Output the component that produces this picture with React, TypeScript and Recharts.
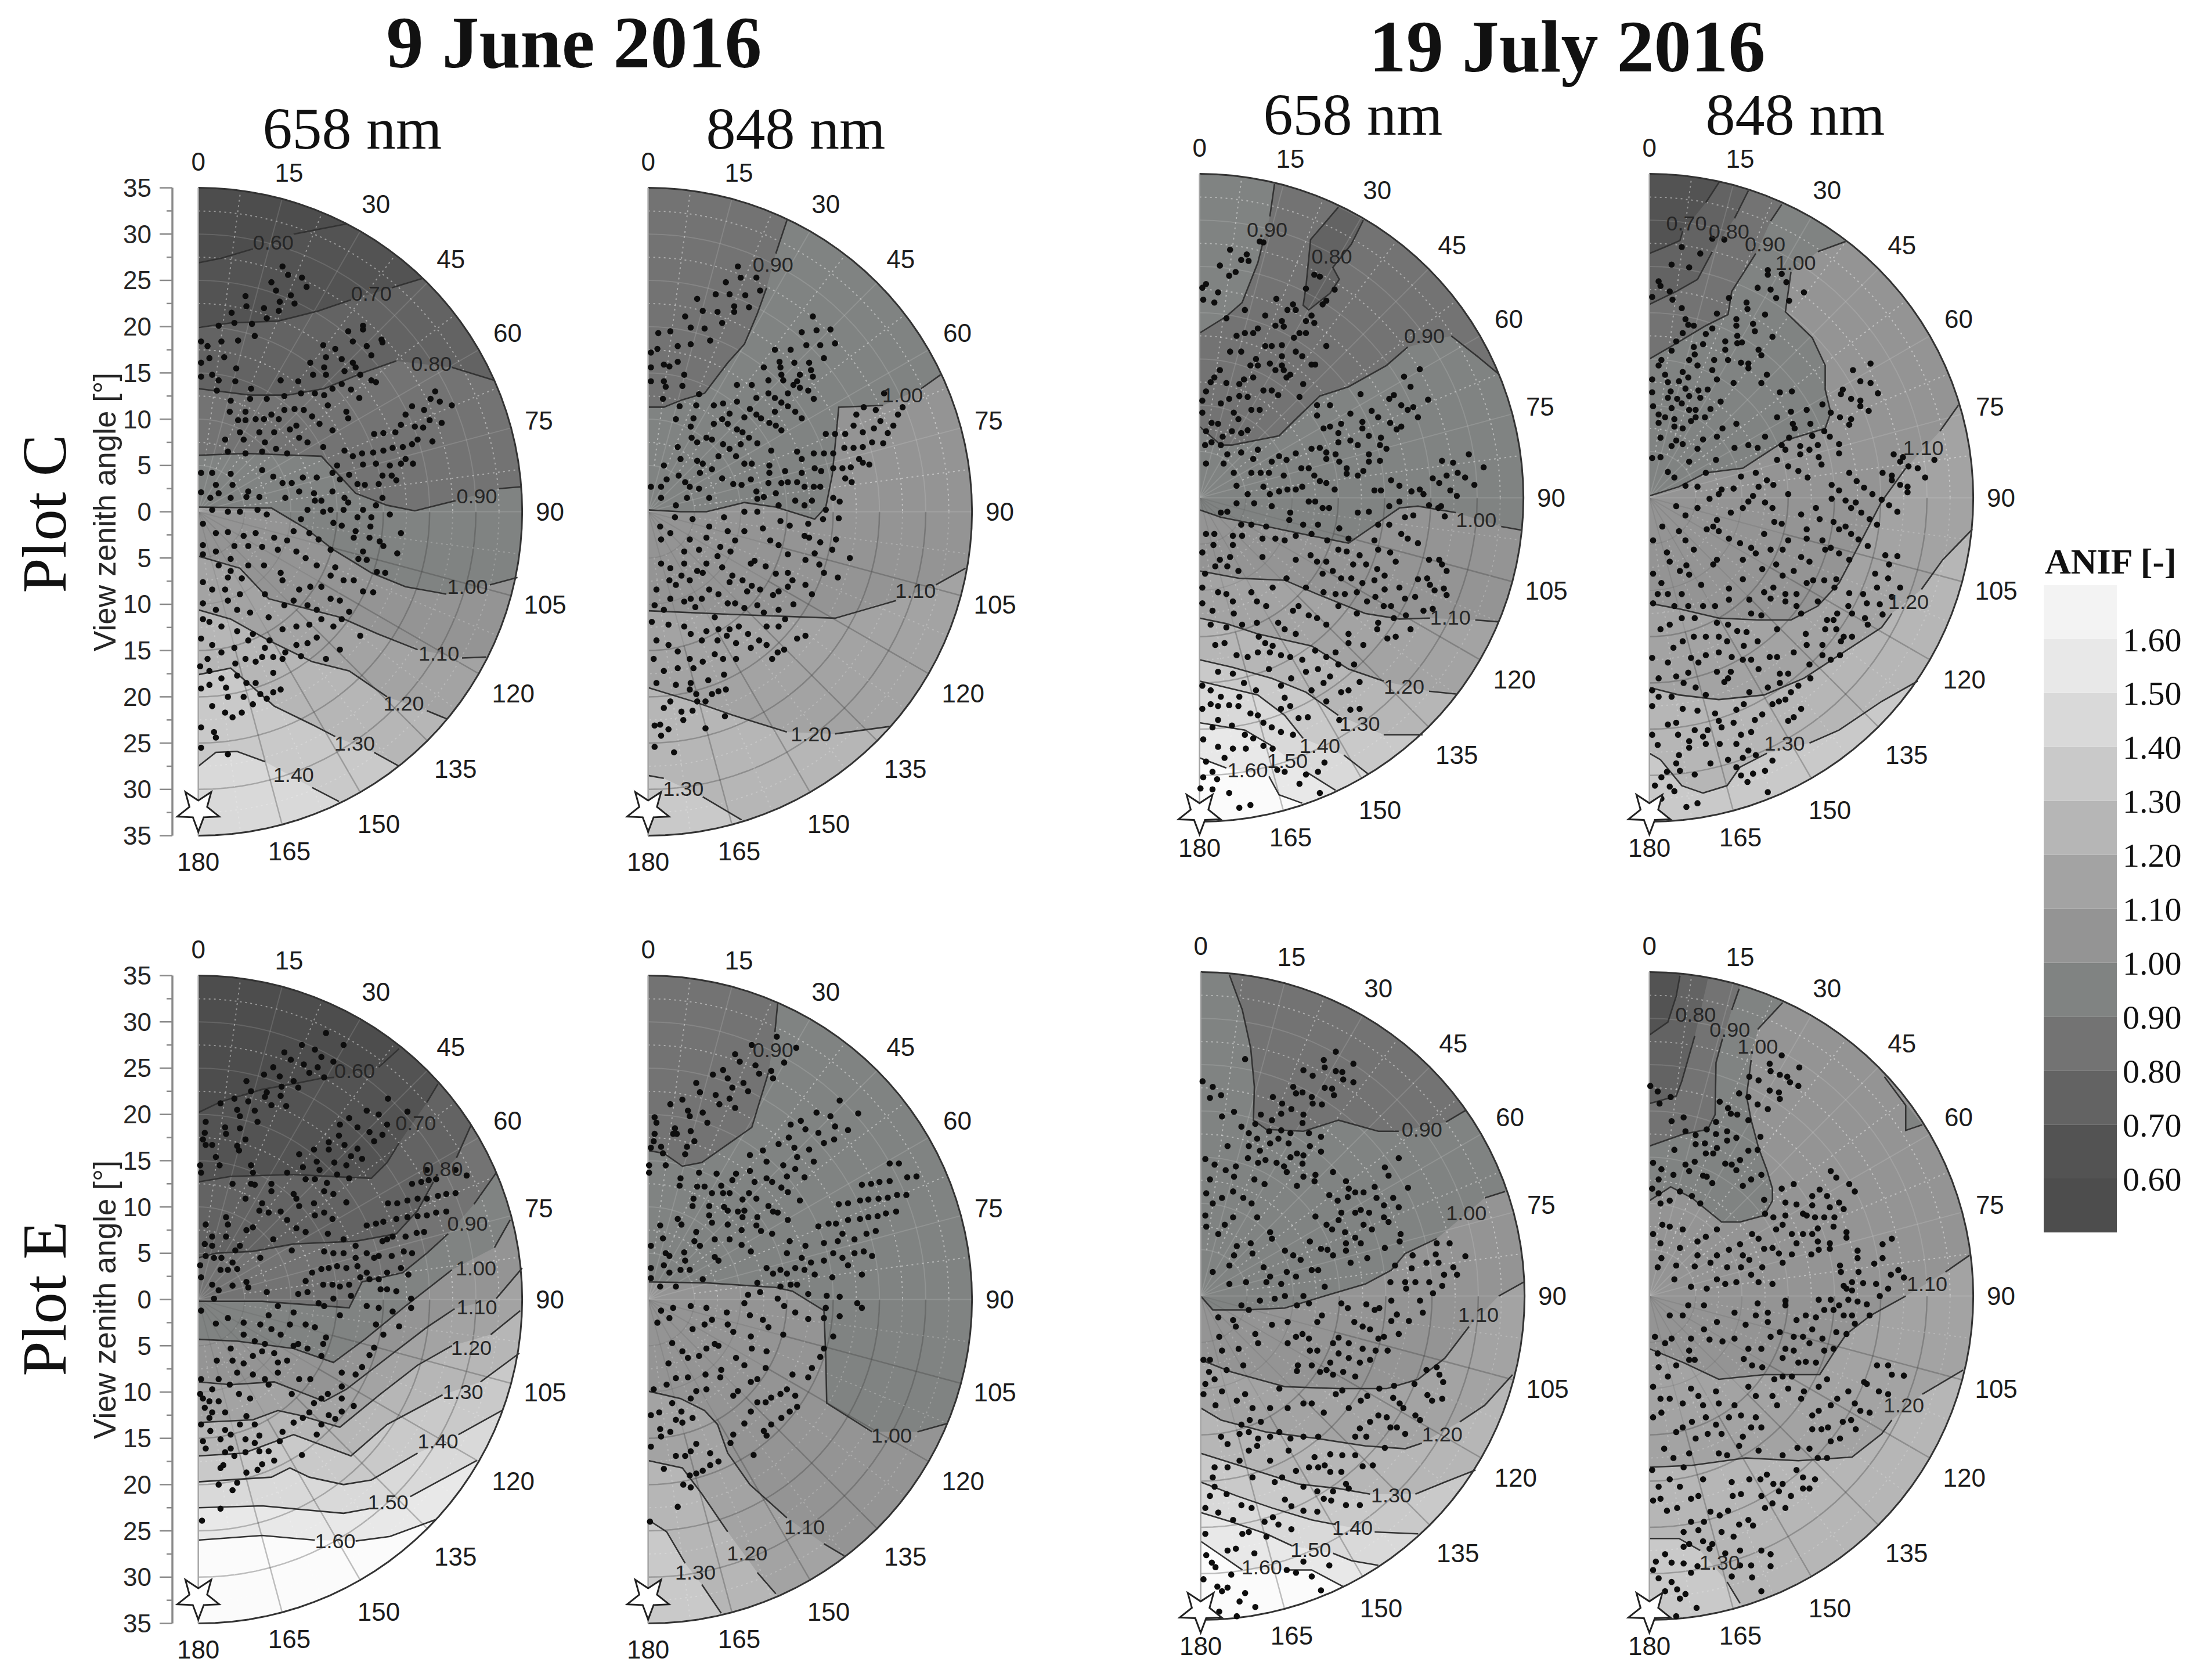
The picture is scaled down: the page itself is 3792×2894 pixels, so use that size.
import { ScatterChart, Scatter, XAxis, YAxis, BarChart, Bar } from 'recharts'

// colour scale
const levels = [0.5, 0.6, 0.7, 0.8, 0.9, 1.0, 1.1, 1.2, 1.3, 1.4, 1.5, 1.6]
const bandFills = ['#4d4d4d', '#535353', '#636363', '#737373', '#808382', '#949494', '#a3a3a3', '#b6b6b6', '#c9c9c9', '#d9d9d9', '#e8e8e8', '#f3f3f3']
const bandHeights = [0.6, 0.1, 0.1, 0.1, 0.1, 0.1, 0.1, 0.1, 0.1, 0.1, 0.1, 0.1]
const scaleTicks = [0.6, 0.7, 0.8, 0.9, 1.0, 1.1, 1.2, 1.3, 1.4, 1.5, 1.6]
const zenithTicks = [-35, -32.5, -30, -27.5, -25, -22.5, -20, -17.5, -15, -12.5, -10, -7.5, -5, -2.5, 0, 2.5, 5, 7.5, 10, 12.5, 15, 17.5, 20, 22.5, 25, 27.5, 30, 32.5, 35]
const azimuthLabels = [0, 15, 30, 45, 60, 75, 90, 105, 120, 135, 150, 165, 180]
const azimuthRadii = [37.8, 37.9, 38.4, 38.6, 38.6, 38.1, 38, 38.8, 39.3, 39.3, 39, 38, 37.8]

type Pt = [number, number] | null
type Contour = [number, Pt[]]

const p1Contours: Contour[] = [
  [0.6, [[0, 26.9], [2.5, 27.4], [5.9, 28.4], null, [10.3, 30], [16, 31.1]]],
  [0.7, [[0, 19.9], [3.5, 20.4], [8.6, 20.6], [13, 21.7], [16.5, 22.9], null, [20.9, 24.2], [24.2, 25.2]]],
  [0.8, [[0, 13.3], [5.6, 12.6], [9.6, 12.6], [13.6, 13.3], [18, 15.1], [21.4, 16.3], null, [27.4, 15.6], [32, 14.2]]],
  [0.9, [[0, 6.1], [5.2, 6.3], [13.3, 6], [17, 2], [20.4, 0.7], [23.4, 0.1], [27.8, 1.2], null, [32.5, 2.5], [34.9, 2.7]]],
  [1.0, [[0, 0.5], [7.9, 0.4], [11.6, -1.8], [14.6, -4.1], [18.7, -6.6], [22.4, -8.1], [26.8, -8.9], null, [31.5, -7.9], [34.5, -7.1]]],
  [1.1, [[0, -4.8], [4.5, -6.1], [7.6, -9.4], [15.3, -11.4], [19.4, -13.2], [23.7, -14.9], null, [28.5, -15.8], [31.1, -15.7]]],
  [1.2, [[0, -10.6], [3.5, -11.6], [7.6, -13.9], [12.3, -16.2], [16.3, -17.2], [20.4, -20], null, [24.7, -21.5], [26.9, -22.4]]],
  [1.3, [[0, -17.6], [3.5, -16.9], [5.6, -18.7], [8.2, -21], [12.3, -23], [14.8, -24.3], null, [19, -26], [21.7, -27.5]]],
  [1.4, [[0, -27.5], [1.9, -26], [4.2, -25.9], [7.2, -27], null, [12.3, -29.8], [15.2, -31.3]]],
]
const p2Contours: Contour[] = [
  [0.9, [[0, 11.3], [1.7, 11.3], [3.7, 12.1], [6.1, 12.8], [8.6, 16.1], [10.4, 18.1], [11.8, 21.4], [12.8, 24.2], null, [13.8, 27.9], [15, 31.5]]],
  [1.0, [[0, 0.2], [3.5, 0], [6.3, 0], [10.4, 1], [13.8, 0.5], [18, -0.8], [19.2, 0.5], [19.9, 4], [20.6, 11.3], [25.4, 11.5], null, [29.5, 13.3], [31.6, 14.8]]],
  [1.1, [[0, -10.7], [9.2, -11.1], [20.2, -11.5], [26.8, -9.6], null, [31.1, -7.9], [34.3, -6.1]]],
  [1.2, [[0, -19], [4.9, -20.5], [9.2, -22], [15, -23.8], null, [20.2, -24], [26.1, -23.2]]],
  [1.3, [[0, -28.5], [1.7, -28.8], null, [5.9, -30.8], [10.1, -33.3]]],
]
const p3Contours: Contour[] = [
  [0.9, [[0, 7.7], [2.3, 5.7], [3.5, 5.7], [8.6, 6.7], [10.4, 8.5], [13, 11], [16.1, 12], [20.2, 14.3], [22.5, 16.3], null, [27.2, 17.5], [30, 15.3], [32.3, 13.4]]],
  [1.0, [[0, -1.3], [2.3, -2.1], [6.3, -2.9], [12.1, -4.1], [16.1, -4.9], [19, -2.9], [21.6, -1.1], [23.6, -0.9], [27.7, -1.6], null, [32.6, -3.1], [34.8, -3.5]]],
  [1.1, [[0, -7.9], [4.3, -8.7], [9.2, -8.9], [12.7, -10.4], [17.9, -12.5], [21.6, -13.1], [24.9, -13], null, [29.8, -13.2], [32.3, -13.4]]],
  [1.2, [[0, -13], [2.9, -13.6], [6.3, -14.7], [12.1, -16], [16.1, -18.5], [19.9, -19.8], null, [24.8, -20.9], [27.7, -21.2]]],
  [1.3, [[0, -17.5], [3.5, -18.3], [7.8, -19.5], [11.5, -21], [15, -23.5], null, [19.9, -25.6], [24.1, -25.6]]],
  [1.4, [[0, -19.8], [6.3, -21.3], [9.2, -23.5], [11.2, -26], null, [15.6, -27.8], [18.3, -29.9]]],
  [1.5, [[0, -24.3], [4.9, -25.1], [7.8, -26.8], null, [11.5, -29.6], [14.7, -31.6]]],
  [1.6, [[0, -28.1], [2.9, -29.2], null, [7.5, -30.1], [8.6, -32.1], [11.1, -33]]],
]
const p4Contours: Contour[] = [
  [0.7, [[0, 26.4], [1.7, 27.1], [3.3, 27.8], [3.6, 28.8], null, [6.1, 31.9], [7.6, 34.2]]],
  [0.8, [[0, 20.9], [2.9, 22.3], [5.2, 23.6], [6.8, 26.6], null, [9.2, 30.2], [10.7, 33.2]]],
  [0.9, [[0, 15], [2.6, 16.5], [6.1, 18.6], [8.5, 19.8], [8.9, 22.3], [11.5, 26.4], null, [13.1, 29.9], [14.3, 31.7]]],
  [1.0, [[0, 0.2], [3.2, 1.2], [6.1, 2.7], [10.1, 3.2], [12.4, 4.7], [14.7, 6.2], [19, 7.5], [19.6, 9.2], [19, 11.7], [19, 14.3], [17.6, 17.3], [14.7, 20.1], [15.3, 24.4], null, [18.2, 26.6], [21.2, 27.7]]],
  [1.1, [[0, -11.4], [3.2, -12], [7.5, -13], [11.8, -13.2], [15.3, -13.2], [18.2, -11.7], [20.5, -9.2], [22.5, -5.4], [25.1, -0.4], [27.7, 3.2], null, [31.4, 7.2], [33.4, 10]]],
  [1.2, [[0, -20.5], [3.2, -21.3], [7.5, -21.8], [12.4, -21.3], [16.7, -19.5], [20.5, -17], [25.1, -14], [26.2, -12.5], null, [29.4, -9.9], [31.7, -6.7], [34.9, -3.4]]],
  [1.3, [[0, -27.6], [1.2, -28.3], [3.5, -31.1], [5.8, -31.9], [8.4, -31.1], [9.8, -29.1], [12.7, -27.6], null, [17.3, -26.5], [20.5, -25.1], [25.1, -22], [29, -19.8]]],
]
const p5Contours: Contour[] = [
  [0.6, [[0, 20.2], [2.5, 21.4], [6.9, 22.7], [10.3, 23.3], [13.3, 23.9], [14.7, 24], null, [19.5, 25.1], [21.7, 27.1]]],
  [0.7, [[0, 12.7], [3.5, 13.3], [10.3, 13.5], [16.3, 13.2], [18.7, 13.1], [20.4, 14.8], [21.7, 16.9], null, [24.7, 21.3], [25.9, 23.3]]],
  [0.8, [[0, 4.5], [1.9, 5], [5.9, 5.2], [10.3, 6], [17, 6.3], [21.4, 7.1], [23.7, 9.6], [25.4, 12.7], null, [27.9, 15.3], [29.5, 18.9]]],
  [0.9, [[0, -0.2], [6.9, -0.2], [16.3, -0.9], [17.7, 1.9], [22.1, 2.9], [24.7, 5], [27, 7.1], null, [29.8, 10.3], [32.2, 13.7]]],
  [1.0, [[0, -4.3], [4.2, -4.5], [10.3, -5.3], [14.6, -6.8], [18, -4.3], [22.4, -0.7], [27.4, 3.2], null, [32, 5.6], [33.7, 8.6]]],
  [1.1, [[0, -8.9], [3.5, -9.2], [8.2, -8.9], [13.6, -11], [16, -9.7], [20.4, -6.3], [24.7, -3], [27.7, -1], null, [32.2, 0.1], [35, 3.4]]],
  [1.2, [[0, -13.3], [5.9, -13], [8.6, -12], [10.9, -12.5], [15.3, -13.8], [19.7, -10.2], [23.7, -7.1], [27.4, -5], null, [31.6, -3.8], [34.8, -1.2]]],
  [1.3, [[0, -16.9], [4.9, -16.6], [7.6, -15.6], [10.3, -14.6], [16.5, -16.9], [20.4, -13.5], [26.4, -10.3], null, [30.5, -8.9], [34.7, -5.8]]],
  [1.4, [[0, -19.7], [7.9, -19.2], [9.9, -18.2], [12, -19.2], [15.7, -20], [18.7, -19.5], [23.7, -16.6], null, [28.1, -14.6], [32.8, -12]]],
  [1.5, [[0, -22.5], [6.9, -22.3], [15.7, -23.1], [18.5, -22.6], null, [22.9, -21.3], [30.1, -17.4]]],
  [1.6, [[0, -26], [6.9, -25.5], [12.6, -26], null, [17, -26.1], [20.7, -25.6], [25.6, -23.8]]],
]
const p6Contours: Contour[] = [
  [0.9, [[0, 16.1], [1.7, 15.8], [3.7, 14.4], [5.8, 14.8], [11.2, 18.6], [13, 24.5], null, [13.7, 28.9], [14, 32]]],
  [1.0, [[0, 1.9], [6.3, 1.8], [13.8, 1.3], [15.6, 0.9], [19, -1.2], [19.2, -6.3], [19.3, -11.2], [24.2, -14.3], null, [29.1, -14.3], [32.3, -13.4]]],
  [1.1, [[0, -9.9], [3.5, -10.7], [6.1, -12], [7.5, -13.5], [8.6, -16.6], [11, -20], [15, -23.6], null, [19, -26.4], [21.2, -27.7]]],
  [1.2, [[0, -17.4], [3.7, -18.2], [5.8, -21], [8.6, -25.1], null, [11.8, -29.5], [13.8, -31.8]]],
  [1.3, [[0, -23.8], [2, -25.1], [4, -28.5], null, [5.8, -30.8], [7.9, -33.9]]],
]
const p7Contours: Contour[] = [
  [0.9, [[3.1, 34.7], [4.5, 30.9], [5.4, 26.8], [5.8, 22.6], [5.7, 19], [7.1, 18], [11.1, 17.8], [14.9, 19], [19.2, 17.8], [21.4, 17.8], null, [26.5, 18.8], [28.7, 20.1]]],
  [1.0, [[0, 0], [1.3, -1.5], [4.8, -1.5], [9.1, -1.3], [13.7, 0.1], [17.8, 1.3], [20.6, 2.8], [22.1, 4.6], [25.5, 6.2], null, [30.7, 10.6], [32.9, 11.3]]],
  [1.1, [[0, -6.9], [3.3, -8.2], [9.1, -9.8], [14.9, -10], [20.1, -10], [23.5, -9], [26.4, -6.7], [29, -3.3], null, [32.2, 0], [34.9, 1.5]]],
  [1.2, [[0, -12.1], [2.2, -13.4], [7.1, -14.7], [12.6, -15.4], [17.8, -16.2], [22.1, -16.5], [23.9, -15.9], null, [28, -13.6], [30.7, -11.8], [33.7, -8.5]]],
  [1.3, [[0, -17], [4.8, -18.5], [10.5, -20.3], [14.9, -20.8], [18.3, -21.4], null, [23.2, -21.4], [26.4, -20.1], [29.7, -18.8]]],
  [1.4, [[0, -20.1], [3.9, -21.6], [7.7, -22.9], [12, -24.2], [14.6, -24.7], null, [18.8, -25.5], [23.5, -25.7]]],
  [1.5, [[0, -23.4], [3.3, -24.4], [7.1, -25.7], [9.9, -27], null, [14.3, -27.8], [16.3, -28.6], [19.2, -29.1]]],
  [1.6, [[0, -26.5], [1.9, -27.8], [4.5, -29.6], null, [9.1, -29.6], [12, -29.6], [15.4, -31.4]]],
]
const p8Contours: Contour[] = [
  [0.7, [[0, 28.2], [2, 29.6], [2.9, 32.4], [3.3, 34.6]]],
  [0.8, [[0, 20.8], [2.9, 21.6], [3.5, 23.2], [4.9, 28.1], null, [6.2, 33.7]]],
  [0.9, [[0, 16.2], [3.7, 17.5], [6.3, 18], [7.1, 19.6], [7.2, 25.2], [7.9, 27.8], null, [8.9, 30.9], [9.7, 33.2]]],
  [1.0, [[0, 10.3], [2.3, 11.8], [4.6, 10.6], [7.8, 8], [9.8, 8], [12.4, 8.7], [13.3, 10.3], [13.3, 11.6], [12.7, 13.6], [11.8, 16], [11, 19], [10.5, 21.6], [11, 25.5], null, [11.7, 28.8], [14.4, 31.7]]],
  [1.1, [[0, -5.7], [3.7, -7.2], [7.5, -9], [12.4, -8.5], [18.4, -8.5], [20.2, -5.7], [21.3, -4.1], [23.9, -2.1], [27.7, 0], null, [32, 2.6], [34.6, 4.4]]],
  [1.2, [[0, -18.5], [4.6, -18.3], [10.4, -17.5], [16.1, -17.8], [21.9, -17.4], [25.1, -14.9], [26.2, -13.4], null, [29.5, -10.6], [33.9, -8]]],
  [1.3, [[0, -26.2], [3.2, -26.2], [5.5, -27.5], null, [8.4, -30.9], [9.8, -33.2]]],
]

// closed patches that the top-down contours cannot describe
const p3Corner: Pt[] = [[0, 17.8], [2.9, 19.6], [4.6, 21.1], [6.3, 25.4], [6.8, 27.4], null, [7.6, 30.4], [8.1, 33.9]]
const p3Island: Pt[] = [[15, 31.4], [12, 27.9], [11.5, 22.8], [11.2, 20.8], [11.8, 20.3], [14.1, 22.1], [15.1, 23.6], [14.4, 24.9], [16.4, 27.4], [17.7, 30]]
const p8Island: Pt[] = [[25.4, 23.7], [27.7, 20.6], [27.7, 17.9], [29.5, 18.5]]

const p1Labels: [string, number, number][] = [['0.60', 8.1, 29.1], ['0.70', 18.7, 23.6], ['0.80', 25.2, 16], ['0.90', 30.1, 1.7], ['1.00', 29.1, -8.1], ['1.10', 26, -15.3], ['1.20', 22.2, -20.7], ['1.30', 16.9, -25], ['1.40', 10.3, -28.4]]
const p2Labels: [string, number, number][] = [['0.90', 13.5, 26.7], ['1.00', 27.5, 12.6], ['1.10', 28.9, -8.5], ['1.20', 17.6, -24], ['1.30', 3.8, -29.9]]
const p3Labels: [string, number, number][] = [['0.90', 7.3, 29], ['0.80', 14.3, 26.1], ['0.90', 24.3, 17.5], ['1.00', 29.9, -2.4], ['1.10', 27.1, -12.9], ['1.20', 22.1, -20.4], ['1.30', 17.3, -24.4], ['1.40', 13, -26.8], ['1.50', 9.5, -28.4], ['1.60', 5.2, -29.4]]
const p4Labels: [string, number, number][] = [['0.70', 4, 29.7], ['0.80', 8.6, 28.8], ['0.90', 12.5, 27.4], ['1.00', 15.8, 25.4], ['1.10', 29.6, 5.4], ['1.20', 28, -11.2], ['1.30', 14.6, -26.5]]
const p5Labels: [string, number, number][] = [['0.60', 16.9, 24.7], ['0.70', 23.5, 19.1], ['0.80', 26.4, 14.1], ['0.90', 29.1, 8.2], ['1.00', 30, 3.4], ['1.10', 30.1, -0.8], ['1.20', 29.5, -5.2], ['1.30', 28.6, -10], ['1.40', 25.9, -15.3], ['1.50', 20.5, -21.9], ['1.60', 14.8, -26.1]]
const p6Labels: [string, number, number][] = [['0.90', 13.5, 27], ['1.00', 26.3, -14.7], ['1.10', 16.9, -24.6], ['1.20', 10.7, -27.4], ['1.30', 5.1, -29.5]]
const p7Labels: [string, number, number][] = [['0.90', 23.9, 18], ['1.00', 28.7, 9], ['1.10', 30, -2], ['1.20', 26.1, -14.9], ['1.30', 20.6, -21.5], ['1.40', 16.4, -25], ['1.50', 11.9, -27.4], ['1.60', 6.6, -29.3]]
const p8Labels: [string, number, number][] = [['0.80', 5, 30.4], ['0.90', 8.7, 28.8], ['1.00', 11.7, 27], ['1.10', 30, 1.3], ['1.20', 27.5, -11.8], ['1.30', 7.6, -28.8]]

// view positions, x then y in degrees
const p1Points = [9.1,26.5, 9.7,25.6, 11.2,25.3, 11.7,24.3, 7.9,24.8, 8.4,23.9, 10,23.4, 8.8,22.7, 10.4,22.5, 8.7,21.7, 7.1,22, 5.1,23.3, 5.2,22.2, 3.6,21.5, 3.9,20.4, 5.8,20.3, 7.4,20.9, 2.2,20.1, 6.1,19, 17.8,20.1, 17.8,19.7, 16.2,19.5, 16.7,18.4, 19.8,18.6, 19.9,18.3, 18.2,17.9, 18.7,16.9, 13.5,18, 13.8,16.7, 14.8,17.6, 15.5,16.5, 16.7,16.1, 12.1,16.1, 13.6,15.6, 13.8,14.8, 15.8,15.2, 17,15.6, 17.5,14.8, 18.7,14.2, 19.2,14, 12.4,14.8, 15.5,13.8, 16.5,13.2, 14.5,13.3, 17.4,12.3, 13.6,12.6, 12.6,12.8, 11.1,12.8, 10.8,14.1, 8.9,14.2, 0.3,18.4, 1,17.9, 2.5,18.4, 4.3,18.5, 0.3,16.1, 1.2,16.6, 2.8,16.7, 0.3,14.6, 1.5,14.8, 2.2,14.2, 4.1,15.5, 4,14.1, 2,13.1, 3.5,12, 3.4,10.8, 5.7,13.3, 5.6,12.2, 7.4,12.2, 9.3,12.5, 5.1,10.8, 4.3,9.9, 5.1,9.9, 6.2,10, 7.1,10, 7.9,10.5, 8.7,10, 9.3,11, 10.4,11.1, 11.4,11, 12.3,10.3, 13.1,9.5, 14.5,8.8, 16.2,10.1, 16,10.8, 14,11.5, 9.9,8.9, 10.6,9.3, 8.2,8.6, 6.6,8.6, 4.5,8.6, 4.9,7.8, 7.2,7.5, 8.4,6.8, 10.9,8, 11.8,7.5, 13.5,7, 9.6,6.3, 2.9,7.8, 3.2,6.5, 5.1,6.3, 6.9,6.5, 19,8.4, 20,8.5, 21.3,8.6, 21.9,9.4, 22.4,10.5, 23.1,11.4, 24.4,11, 25.1,12.2, 25.6,13, 26.1,11.9, 27.4,11.5, 26.3,9.6, 25,9.9, 24.3,9.1, 23.4,9.2, 23.7,7.8, 25.3,7.6, 23.1,7.3, 22.1,7, 21,6.9, 20,6.6, 18.9,6.4, 17.7,6.3, 16.7,6, 15.8,6.6, 22.4,5.7, 23.2,5.2, 21.9,5.2, 20.7,5, 19.2,5.2, 17.8,5.1, 15,5, 14.5,4.2, 16.3,4, 20.9,3.9, 21.4,3.4, 19.9,3.9, 19.5,3, 18,2.9, 17.2,3, 15.3,3.5, 0.3,4.2, 1.5,4.2, 1.9,2.9, 3.5,4.1, 3.7,2.9, 6.9,4.5, 8.1,3.8, 9.1,3.1, 10.1,3.1, 11.3,3.7, 12.8,3.7, 14.5,2.2, 12.5,2, 10.9,2.2, 9.4,1.5, 5.4,2.2, 6.6,1.6, 5.2,1.6, 3.5,1.5, 1.3,1.5, 0.3,2.1, 2.2,2, 12.6,1.2, 13.3,1.2, 15.8,1.5, 16.2,1, 15.7,0.2, 14.3,0.2, 11.8,0.2, 13.5,0, 17.8,0.2, 19.2,0.7, 19.9,1.5, 20.7,-0.3, 18.7,-0.6, 17.2,-0.6, 21.9,-2.3, 21.5,-4.5, 19.6,-3.2, 20,-3.7, 18.6,-1.6, 18.5,-2.8, 17,-2.1, 16.8,-2.8, 17.8,-4.3, 18.2,-5.2, 17.3,-5.1, 19.3,-6.5, 20.2,-6.6, 15.5,-1.5, 14.6,-1.2, 13,-3, 12,-2.3, 10.3,-2.1, 11.1,-0.8, 9.6,-3.1, 8.2,-2.8, 7.4,-0.3, 6.4,0.2, 4.5,0, 3.2,0, 1.5,0.2, 0.5,-1.3, 1.9,-2.3, 3.2,-2.2, 4.9,-2.6, 6.2,-2.3, 5.4,-3.7, 3.9,-3.7, 0.5,-3.6, 1.9,-4.3, 0.5,-4.6, 3.5,-5.1, 6.9,-3.8, 8.6,-4.1, 10.6,-4.3, 11.6,-5, 12.8,-5.8, 14.3,-4.1, 14.8,-6, 14.3,-6.9, 15.7,-7.4, 16.8,-7.4, 17.8,-8.6, 18.9,-8.7, 16.3,-10.8, 15.3,-9.6, 14.3,-9.4, 13.3,-8.1, 12.1,-8.1, 10.9,-8.4, 9.1,-7.4, 8.9,-6.6, 7.1,-5.8, 5.4,-5.8, 3.5,-6.4, 2.2,-5.8, 4.7,-7.2, 3.2,-7.1, 0.5,-7.6, 1.5,-8.4, 2.9,-8.4, 4.5,-8.9, 7.2,-8.9, 9.3,-10.1, 10.3,-9.6, 11.8,-10.1, 12.8,-10.6, 0.5,-9.9, 1.9,-10.6, 3.2,-9.6, 4.2,-10.6, 5.6,-10.9, 7.6,-11.4, 9.1,-12.7, 10.6,-12.4, 12,-12.2, 13.3,-11.6, 14.6,-12.4, 15.5,-11.6, 17.5,-13.4, 12.8,-13.6, 11.8,-14.2, 10.6,-14.4, 9.4,-15.2, 15.3,-14.9, 13.8,-15.9, 11.1,-15.6, 7.7,-13.9, 5.9,-13.2, 4.2,-12.9, 2.5,-12.4, 0.5,-11.6, 1.2,-11.9, 0.3,-13.7, 1.5,-14.4, 2.5,-15.2, 3.9,-14.7, 5.4,-13.9, 7.2,-14.7, 6.9,-15.7, 8.1,-15.7, 9.1,-15.9, 1,-15.9, 0.2,-16.7, 1.2,-17.2, 4,-16.4, 5.1,-15.9, 6.2,-16.2, 8.1,-17.4, 4.2,-17.7, 2.5,-18, 1.2,-18.7, 0.3,-19.1, 3,-19, 5.2,-18.5, 6.2,-18.5, 8.9,-19.2, 8.1,-19.5, 6.7,-19.7, 7.4,-20.2, 4.9,-20, 3.2,-20, 1.5,-21, 2.9,-21.7, 3.7,-22.2, 4.7,-21.7, 5.9,-20.8, 0.3,-23.3, 1.7,-23.8, 1.9,-24.4, 0.3,-25.5, 3.2,-26.2]
const p2Points = [9.7,26.5, 11.7,25.3, 10,25.3, 8.4,24.8, 12.1,23.9, 8.8,23.5, 7.3,23.5, 10.5,23.4, 5.3,23, 7.5,21.6, 9.3,22.2, 10.9,22.1, 9.3,21.6, 5.9,21.7, 4,21.1, 8,20.4, 4.6,19.9, 6.1,19.8, 1.1,19.3, 2.4,19.5, 6.7,18.5, 4.6,18.1, 3.2,17.9, 1,17.6, 0.3,17.2, 3.2,16.2, 1.7,15.9, 2.3,15.7, 0.3,15.6, 3.9,14.8, 0.3,14.1, 1.7,14.1, 1.9,13.5, 3.7,13.6, 1.6,12.2, 5.5,12.7, 3.4,11.4, 5.2,11.5, 3,10, 4.9,10.1, 4.6,9.2, 7.1,11.5, 8.1,11.7, 8,10, 8.6,9.5, 8.8,10.6, 7.1,9.5, 9.6,13.7, 11.2,13.7, 9.6,11.9, 11,11.1, 11.7,12.3, 13,14.2, 12.5,15.6, 13.7,17.5, 14.2,16.2, 14.3,15.6, 15.4,17.5, 16.6,19.4, 17.8,21.1, 18.2,19.6, 19.7,19.7, 20.2,18.2, 18.6,18, 17.1,18, 15.8,16.1, 17.4,16.1, 19,16.6, 17.6,15.3, 17.8,14.6, 16.4,14.8, 16.1,14.1, 15.7,13.7, 14.4,14.8, 14.6,14.2, 15.1,12.8, 16.4,13.4, 17.3,13.1, 17.9,12.2, 13,12.8, 13.7,12.3, 14.4,11.8, 15.1,11.4, 15.9,10.8, 16.6,10.1, 13.7,10.8, 11.7,10.5, 12.2,10.1, 13.1,9.6, 13.8,9.3, 14.4,8.8, 10.4,10.2, 9.6,8.9, 10.2,8.6, 10.9,8, 11.8,7.4, 13.3,6.6, 6.3,8, 6.9,7.8, 8.1,7.3, 8.8,6.8, 10,7.3, 9.5,6, 10.4,5.2, 11.2,5.2, 7.6,6, 5.3,7.5, 4.7,8, 3.2,7, 3.5,5.7, 5.3,5.5, 5.9,5.2, 6.9,4.6, 8,3.6, 1.7,5, 5.6,4.2, 3.3,3.9, 2,3.5, 4,3.2, 4.5,2.7, 1.4,2.7, 0.3,2.7, 5.5,2.5, 9.2,3, 10.1,2.9, 11.1,3.5, 6.6,1.5, 4.2,1.5, 1.4,1.5, 3,0.7, 19.2,8.4, 20.2,8.4, 21.3,8.4, 21.2,6.9, 22.2,6.9, 23.2,7, 22.5,10.5, 22.2,9.3, 23.2,8.6, 23.3,11.3, 24.4,9, 25.1,9.8, 24.6,11, 25.5,12.8, 27,10.5, 27.5,11.3, 26.5,9.3, 25.9,8.5, 25.4,7.4, 24.2,7.5, 22.8,5.7, 23.9,5.1, 23.2,5.3, 21,4.7, 21.9,4.8, 21.3,3.6, 22,3.2, 20,4.7, 20,6.3, 19,6.3, 17.9,6.3, 16.6,5.7, 16.1,6.5, 18,4.7, 18.7,4.4, 16.6,4.2, 14.8,4.4, 13.1,5, 13.1,4.2, 13,3.1, 14.4,3.1, 15.1,3.2, 16.1,3.2, 16.9,2.7, 17.9,2.7, 18.6,2.7, 13.8,2, 15.9,1.2, 11.7,2.2, 11.8,1.4, 12.5,1.6, 14.1,0.7, 17.7,1.2, 16.9,0.7, 19.2,0.2, 20,1.5, 20.7,1.1, 20.6,-0.7, 18.9,-0.8, 17.3,-1.3, 16.9,-2.6, 17.4,-2.8, 18.6,-3.3, 20.3,-3, 19.9,-4.1, 18,-4.5, 17,-5.2, 18.5,-5.7, 21.8,-5, 19,-6.6, 20.5,-7.1, 17,-7.9, 17.7,-8.9, 15.6,-7.4, 15.1,-6.6, 15.1,-8.1, 13.8,-6.7, 14.1,-8.6, 13.5,-9, 15.7,-10, 15.3,-1.5, 14.3,-1, 11.8,0, 10.4,0, 8.2,-0.6, 6.6,-1.6, 4.8,-0.8, 2.9,-0.6, 1.3,-1.6, 1.4,-3, 2.4,-2.3, 4.5,-3, 6.3,-2.8, 8.6,-2.1, 10.4,-2.1, 12.4,-1.8, 13.2,-3.1, 9.4,-3.1, 3.9,-4.3, 5.5,-4.1, 7.8,-3.8, 8.9,-4.3, 15.1,-4.6, 14.1,-3.6, 11.5,-5.3, 12.7,-5.9, 11.1,-5.6, 7.5,-4.8, 6.3,-5.6, 5.3,-6.4, 3.9,-5.6, 1.4,-5.6, 2.4,-6.1, 5.9,-6.6, 8,-6, 9.1,-6.9, 10.2,-7.4, 3.6,-6.9, 4.5,-7.4, 2.3,-7.4, 0.9,-8.4, 3,-7.9, 6.6,-8.4, 7.6,-8.9, 8.8,-7.6, 10.7,-8.6, 12.1,-8.4, 11.2,-8, 4.6,-9.4, 5.8,-9.4, 3.9,-9.7, 2.4,-9.4, 0.7,-10.1, 1.7,-10.6, 5.1,-10.3, 8.6,-9.9, 9.4,-9.9, 10.4,-10.4, 11.8,-10.1, 12.5,-10.9, 14.1,-10.6, 7.2,-11.4, 3.9,-12.4, 2.2,-12.2, 0.4,-11.9, 6.3,-12.9, 4.6,-13.2, 7.6,-12.7, 8.8,-12.7, 9.8,-12.4, 10.8,-13.2, 12.8,-12.4, 14.1,-12.4, 14.8,-11.6, 16.1,-13.7, 17,-13.4, 12.8,-14.4, 12,-13.9, 11.1,-14.7, 9.5,-14.2, 8.5,-13.4, 7.5,-13.9, 0.9,-13.9, 2.2,-14.4, 5.8,-13.9, 14.7,-14.9, 14,-15.2, 13.4,-15.9, 9.5,-15.9, 7.2,-15.4, 8.1,-15.9, 3.2,-15.1, 0.6,-15.9, 4.5,-15.9, 5.9,-16.2, 1.7,-17.2, 3.2,-16.9, 4.9,-16.9, 6.5,-18.2, 8.2,-17.6, 4.6,-18.5, 3,-18.7, 0.9,-18.5, 8.4,-19.2, 7.6,-19.4, 6.9,-19.7, 5.2,-19.7, 4.5,-19.2, 5.3,-20.5, 6.2,-20.5, 2.4,-20.5, 1.7,-21.2, 3.6,-21.6, 4.8,-21.5, 3.8,-22.5, 8.3,-22.1, 0.7,-23.1, 1.3,-23, 2.2,-23.5, 1.4,-24.2, 6.2,-23.4, 0.7,-25.4, 2.8,-26]
const p3Points = [6.9,27.6, 6.5,27.7, 3.3,26.8, 5.1,26.3, 4.5,25.7, 5.3,25.6, 2.2,25.1, 3.9,24.4, 3.2,24, 0.7,23.1, 0.3,22.7, 2,22.2, 0.4,21.4, 1.6,21.1, 12.4,24.1, 13,23.9, 11.5,22.6, 14.6,22.5, 13.7,21.3, 13.3,20.9, 8.3,21.5, 10.1,20.9, 9.5,20.3, 10.4,20.3, 12.1,19.7, 11.5,19.1, 12.4,18.9, 4.9,20.3, 2.9,19.4, 7.1,19.7, 8.9,19.1, 8.2,18.6, 9.1,18.5, 6.3,18.3, 5.8,17.8, 4.9,17.8, 4,17.5, 11.5,17.8, 10.8,17.8, 10.2,17.3, 7.8,16.4, 7.1,16.4, 8.9,16.5, 13.7,16.4, 3.3,15.8, 4.5,15.8, 10.4,15.8, 11.1,15.3, 8.9,15.3, 7.6,14.5, 6.1,15, 5.5,14.3, 6.3,14.3, 8.9,14.3, 12.1,14.4, 12.5,14.4, 9.1,13.8, 8.2,13.8, 2.2,13.8, 1.6,13, 9.8,13.3, 9.4,13, 4.8,12.8, 5.8,13, 4.3,12.3, 11.2,12.3, 2.9,12.4, 1.2,12.5, 0.7,11.5, 6.9,11.6, 7.8,11.6, 8.5,11.1, 10.8,10.9, 3.2,10.7, 4.3,11, 5.2,10.9, 0.3,10.5, 2.3,10.2, 0.3,9.2, 3.7,9.2, 4.2,8.5, 5.6,9.5, 6.5,9.5, 1.3,8.1, 2,8, 5.2,7.3, 4.5,7, 3.5,7.2, 0.7,7.2, 2.5,6.6, 2.3,5.7, 1.3,6, 0.6,5.7, 3,4.7, 4.5,4.9, 6.3,5.2, 5.8,4.2, 2.6,3.7, 0.7,3.7, 7.8,3.9, 8.6,4.5, 9.4,4.1, 10.4,4.8, 3.7,2.7, 5.6,2.7, 6.6,2.7, 7.5,2.7, 9.1,2.4, 11,3.2, 11.8,3.2, 12.4,2.4, 4,1.3, 5.2,0.4, 6.9,1.2, 7.6,0.4, 8.6,0.7, 9.5,0.9, 10.4,0.9, 11.1,1.2, 13,1.8, 13.7,1.6, 14.6,0.9, 4,-0.6, 5.9,-0.6, 7.8,-0.9, 9.8,-1.6, 11.8,-0.4, 12.5,-0.4, 13.3,-1.1, 14,-1.1, 2.3,-1.6, 3,-1.5, 4.5,-2.9, 5.6,-2.9, 7.2,-3.1, 9.7,-2.4, 11.2,-2.9, 12.8,-2.9, 15.1,-3.3, 17.1,-1.6, 18.3,-1.5, 19.3,-2.9, 20.5,-2.9, 22.2,-2.1, 23.1,-1.9, 25.8,-1.1, 26.5,-2, 24.8,-0.8, 23.8,0.9, 22.9,0.7, 21.6,1.3, 20.7,1.9, 19.6,0.8, 18.9,0.8, 20.5,-0.9, 21.6,-0.4, 24.2,0.4, 26.1,-0.9, 27.8,0.2, 27.1,0.8, 28.7,2.2, 29.7,1.4, 27.9,2.7, 29.1,4.7, 30.7,3.3, 27.4,3.8, 26.2,4, 26.7,2.4, 25.9,1.6, 25.2,2.1, 23.8,13.9, 22.1,13.1, 22.8,12, 17.4,11.2, 21,11.1, 20.5,10.7, 21.8,10, 22.5,9.5, 23.1,9.8, 23.6,8.7, 24.7,10.6, 18.6,9.4, 19.3,8.7, 20.6,8.1, 21.8,7.7, 21.3,7.4, 17.6,8.2, 17.6,7.5, 16.3,9.1, 15.3,8, 14.1,7.7, 13.4,7.5, 15,7, 12.7,10, 14.1,10, 12.7,8.9, 16.3,6.2, 17.1,5.7, 18.3,6.7, 19.6,6.5, 19.5,5.7, 20.2,5.3, 18.3,4.7, 18.3,3.9, 19.5,4, 15,6, 13.7,4.9, 12.1,5.3, 13,5.4, 13.7,4.2, 15.1,3.9, 15.9,3.2, 15.9,2.6, 17.1,2.4, 17.7,2.9, 14.7,4.7, 16.1,-4.4, 15,-5.6, 12.1,-3.9, 13.8,-4.6, 10.4,-4.1, 9.2,-4.6, 8.2,-4.4, 6.8,-4.4, 4.6,-4.1, 3.6,-4.1, 1.6,-3.9, 0.7,-3.9, 0.3,-5.9, 1.5,-5.1, 3.6,-5.1, 6.8,-6.4, 3.3,-6.4, 2.2,-6.7, 0.6,-8.2, 1.7,-7.4, 3,-7.4, 4.2,-7.9, 9.4,-8.7, 10.4,-6.7, 12,-6.2, 12.7,-6.9, 13.7,-6.9, 15.9,-5.8, 16.6,-7.2, 17.3,-6.2, 18,-7.2, 19.2,-7.7, 20,-8.4, 21.2,-6.9, 20.6,-5.9, 18.9,-4.6, 19.3,-5.6, 21.8,-3.9, 22.5,-4.4, 23.6,-4.9, 24.8,-6.7, 25.9,-6.7, 26.2,-7.2, 26.7,-7.9, 23.6,-8.8, 24.6,-8.7, 24.9,-9.4, 25.4,-10, 26.4,-9.8, 26.7,-10.5, 21.6,-9.7, 20,-9.9, 18.9,-8.9, 17.6,-9.2, 16.4,-8.7, 15.3,-8.7, 14.4,-7.9, 13.3,-8.2, 11.5,-9.7, 13.4,-10.2, 14.7,-10.4, 15.7,-10.4, 17,-10.2, 18.1,-11.2, 19,-10.7, 19.9,-11.7, 20.7,-11.7, 22.2,-10.9, 23.3,-10.7, 24.2,-12.2, 25.2,-12, 22.3,-12.7, 21,-13, 19.3,-13.5, 19.2,-14.2, 22.8,-14.2, 21.2,-15, 20.3,-15.2, 17.7,-15.9, 16.1,-14.7, 16.1,-15.7, 15,-11.7, 17,-12.5, 13.7,-13.7, 12.7,-13, 11.8,-12.7, 10.7,-11.7, 10.1,-12.2, 7.9,-9.7, 5.6,-10.2, 6.2,-11.2, 7.2,-11.7, 3.6,-11.2, 3.7,-12.5, 1.4,-12.2, 2,-10.2, 2.9,-10.4, 0.3,-9.7, 0.3,-11.4, 1.2,-13.7, 2.9,-14, 4.6,-13.7, 6.2,-13.5, 8.5,-13.5, 9.2,-14.2, 10.4,-14.7, 6.4,-15, 7.1,-15.7, 7.9,-16, 1.7,-15.9, 2.7,-15.7, 4,-17, 5.2,-17.2, 6.3,-16.7, 7.6,-16.7, 8.8,-17, 9.8,-17.2, 11.1,-17.5, 12.5,-16.5, 12.8,-18.5, 14.7,-16.7, 13.7,-17.2, 16.7,-18, 15,-18, 17.3,-19.9, 16.1,-20.8, 15.3,-21, 14.1,-19.3, 13.4,-20, 11.5,-18.8, 9.9,-19.5, 8.8,-20.3, 7.5,-18.5, 6.1,-20.8, 2,-18.8, 3.6,-19, 4.8,-20, 0.3,-20.3, 1.2,-20.8, 2.3,-21.5, 4.3,-21.5, 9.2,-21.6, 12.1,-20.8, 13.7,-22, 9.8,-22.5, 8.8,-22.8, 16.3,-22.9, 17.3,-22.8, 15.1,-24, 10.7,-23.8, 11.7,-23.7, 0.3,-22.8, 1.2,-22.3, 2,-22.5, 3.2,-22.4, 4.2,-22.5, 5.5,-23.3, 6.3,-23.5, 2,-24, 1.4,-24.8, 3.5,-24.6, 6.9,-24.3, 7.8,-24.8, 8.8,-25.3, 10.1,-25.6, 4.9,-25.6, 5.8,-26, 0.4,-26.1, 2,-26.9, 3.6,-27.1, 5,-27.1, 6.9,-26.8, 7.9,-27.1, 2.7,-28.1, 0.7,-28.5, 1.4,-29.6, 0.4,-30.2, 1.9,-30.4, 0.1,-31.4, 1.4,-31.5, 3.2,-31.9, 4.3,-33.5, 5.5,-33.2, 8.4,-29.4, 9.2,-29.6, 11.5,-29.9, 12.8,-29.6, 13.5,-28.6, 10.8,-30.9, 13,-31.9]
const p4Points = [6.8,28, 8.1,27.9, 3.5,27.1, 5.5,26.4, 2.4,25.2, 4.3,24.9, 1,23.4, 1.2,22.9, 2.2,22.3, 0.3,21.7, 2.5,21.4, 12.8,24.6, 12.8,24.1, 14.3,24.2, 14.8,23.3, 11.7,22.7, 13.1,22.5, 16.7,22.2, 13.7,21.6, 15.1,21.3, 8.6,21.6, 10.5,21.1, 10.6,20.4, 12.5,19.8, 7.3,19.9, 3.5,20.5, 3.9,19.3, 4.2,18.7, 9.4,19.3, 9.4,18.6, 11.2,18.8, 11.4,18, 13.3,17.4, 9.5,17.5, 6.8,18.3, 6.1,17.7, 4.8,18.6, 3.6,17.8, 9.5,16.7, 8.2,16.9, 8.2,16, 10,16.8, 5.8,16.6, 2.9,16.9, 4.8,16.3, 4.9,15.5, 2.4,15.9, 11.8,16, 12.1,15.4, 8.5,14.9, 9.9,14.6, 10.7,14.5, 10.7,14, 7,14.9, 4.3,14.9, 1.3,14.9, 1,14.3, 3.6,13.6, 6.8,13.8, 5.2,14.3, 1.7,13.3, 0.3,12.8, 4.2,13, 12.7,13.3, 2,12.5, 3.2,12.6, 7.3,12.8, 9.1,12.4, 12.1,12.4, 0.3,11.4, 2.3,11.5, 3.9,11.8, 5.3,11.6, 6.3,11.7, 14.1,11.4, 15.4,11.5, 2,10.8, 3,10.7, 4.3,11, 5.5,10.8, 7.7,10.4, 0.4,9.9, 3.5,10.2, 4.3,9.5, 6.6,9.6, 5,9.5, 1,9, 1.7,8.7, 2.4,9.7, 2.7,8.5, 5,8.7, 4.5,8.3, 6,8.7, 1,8.1, 2.7,7.7, 3.6,7.5, 7.9,7.5, 9.4,8, 1.2,6.5, 2.9,6.2, 3.6,5.8, 5.8,6.3, 7.3,6.6, 0.3,4.3, 1.2,4.4, 2.4,5.6, 5.2,5.3, 9.2,5.4, 10.7,5.7, 11.7,5.4, 12.5,6.6, 13.8,8.7, 15.3,9.3, 15.5,8, 15.7,7.5, 17,9.5, 17.4,8, 18.7,10.1, 19.6,9.2, 20.6,8.7, 21.8,8.5, 21.6,7.9, 20.7,11.2, 21.8,10.7, 22.8,10.5, 22.8,9.9, 23.7,9.4, 22,13.8, 23.9,14.5, 22.8,12.6, 23.9,12.4, 24.7,11.3, 20.9,11.7, 17.6,6.7, 19.5,6.6, 18.9,7.2, 14.3,5.7, 15.1,6.5, 16.3,5.6, 17.3,5.2, 18.2,5.7, 20.5,5.8, 20.5,4.8, 18.3,4.4, 18.6,3.6, 16.3,4.7, 14.7,5.2, 13.8,4.1, 15,3.4, 16.1,2.9, 17.1,2.2, 21.6,2.7, 22.4,1.8, 23.2,1.1, 24.1,0.4, 25.2,2.7, 26.2,2.4, 27.1,3.9, 26.4,4.7, 27.4,4.4, 28,3.4, 29,3.2, 29.8,2.2, 30.8,4.1, 26.2,1.9, 27.1,1.4, 27.9,1.2, 27.9,0.6, 19.7,1.4, 20.5,0.8, 19.7,-0.1, 21.2,-0.3, 22.3,-0.5, 21.8,-1.1, 22.9,-1.6, 23.8,-2.3, 24.6,-2.9, 25.9,-0.8, 26.8,-1.5, 25.1,-0.2, 18,-1.1, 16.4,-1.8, 19.9,-2.6, 18.4,-2.3, 20.5,-3.4, 21.2,-3.1, 17,-3.4, 21.8,-3.9, 22.6,-4.5, 23.6,-5.2, 18.7,-4.6, 17,-4.4, 15,-4.6, 19.6,-5.4, 20.5,-6, 21.6,-6.7, 19,-5.6, 2.9,-0.9, 3.9,-1.9, 5.2,1.2, 3.9,1.3, 2,2.8, 2.7,2.2, 4.3,3.9, 6.1,2.7, 7.2,4.1, 7.8,0.9, 9.1,1, 9.9,2.3, 6.5,-0.1, 7.5,0.4, 8.8,-1.6, 5.2,-1.1, 10.1,-1.1, 11.2,0.2, 10.7,-0.4, 11.5,2.7, 11.8,1.2, 13.4,1.4, 12.7,1.9, 15,0.4, 12.5,-0.5, 13.3,-1.1, 14.3,-2.8, 13.5,-2.6, 6.9,-3.1, 6.2,-3.4, 7.5,-3.6, 3.9,-4.6, 1.4,-3.1, 3.2,-3.6, 0.4,-4.6, 7.3,-2.4, 8.6,-4.4, 9.8,-4.9, 11,-5.4, 12.4,-3.9, 11.5,-6, 13.1,-5.6, 14.4,-5.6, 12.2,-7.7, 13.7,-7.2, 15.6,-7.9, 16.4,-6.4, 17.3,-6.9, 14.4,-8.4, 10.1,-8.8, 10.1,-6.7, 7.3,-6.7, 6.9,-7.2, 4.8,-5.6, 1.9,-5.9, 2.2,-6.9, 4,-7.3, 3.3,-7.9, 0.4,-8.2, 1.3,-9.2, 4.3,-8.3, 5.6,-9.4, 3.5,-10.4, 2,-10.4, 0.9,-10.4, 0.4,-11.4, 2.7,-11.7, 4.2,-11.7, 5.8,-11.7, 7.1,-11.7, 8.6,-9.8, 8.6,-11, 10.8,-11, 12.4,-10.2, 13.4,-9.7, 13.1,-10.9, 14.7,-10.4, 15.9,-10.4, 14.7,-11.2, 15.9,-11.7, 17,-9.2, 17.7,-8.9, 18.9,-8.9, 20.2,-8.8, 20,-9.7, 18.2,-11.2, 21.6,-10.3, 23.1,-10.4, 21.5,-11.7, 23.5,-11.4, 24.9,-11.5, 25.2,-12.6, 23.3,-13, 21.9,-12.5, 20.3,-12.5, 19.9,-13.2, 19.2,-13.2, 19,-14.2, 20.2,-14.2, 21,-15, 21.9,-15, 20.7,-15.5, 23.6,-13.7, 24.4,-8.2, 25.8,-8.7, 27.1,-9.7, 24.6,-9.7, 25.9,-7.2, 25.5,-6.2, 26.8,-6.3, 26.2,-10.7, 16.4,-12.5, 12.1,-12.7, 11,-12.5, 1.2,-14.2, 2.2,-13.7, 3.5,-13, 4.9,-13, 7.3,-13.5, 8.5,-13.7, 9.5,-14.4, 10.5,-14.5, 13.8,-14.2, 16.9,-14.7, 17,-15.9, 18.7,-15.9, 18.7,-17, 19.6,-17.5, 20.6,-17, 17.3,-18, 15.6,-16.7, 13.8,-17.2, 13,-17.2, 11.7,-15.5, 10.2,-16, 8.4,-15.5, 7.5,-15, 6.1,-15, 4.8,-15, 3.6,-15.5, 2.6,-16.2, 0.3,-17.3, 4.5,-17.3, 5.3,-17.8, 6.1,-17, 7.5,-16.7, 8.9,-17.2, 10.1,-17.5, 11,-17.5, 11.8,-18.5, 2,-17.8, 4.2,-18.9, 7.3,-18.8, 8.8,-18.8, 8.5,-19.5, 2.9,-19.3, 1,-19.5, 0.3,-20.8, 3.7,-20, 5,-20.5, 8.1,-19.9, 6.1,-21.3, 14.1,-19, 15,-19, 17.4,-19.5, 16.1,-20.3, 15.3,-21, 14.1,-20, 12.8,-20.5, 10.8,-21, 13.3,-22.3, 14.7,-21.8, 14,-22, 16.4,-22.8, 15.6,-23.7, 15,-24.1, 12.2,-23.4, 11.4,-24, 10.2,-22.3, 9.4,-22.9, 0.3,-22.5, 1,-21.5, 2.4,-21.5, 3.6,-22.8, 5.2,-23, 7.1,-23.3, 7.5,-24.1, 2,-24.5, 2.9,-24.3, 9.1,-24.3, 7.8,-24.8, 4.9,-25.1, 5.8,-25.8, 6.3,-25.1, 0.3,-25.6, 3.1,-25.6, 4.3,-26.3, 0.9,-26.7, 6.1,-26.6, 4.3,-27, 7.6,-26.6, 9.4,-26.6, 9.9,-25.6, 11,-25.3, 10.7,-27.3, 3.2,-27.8, 2.9,-28.7, 6.6,-28.7, 8.5,-28.3, 9.4,-29.1, 10.1,-28.1, 11.5,-27.8, 13.3,-28.4, 9.9,-30, 11.2,-29.8, 12.5,-29.5, 10.6,-30.7, 12.8,-31.8, 1.9,-29.6, 1.3,-30.2, 3.3,-29.5, 4.9,-29.9, 0.6,-31.1, 2.2,-31.2, 2.7,-31.7, 4,-33.4, 5.2,-33, 1.3,-32.5]
const p5Points = [13.8,28.8, 15.7,27.5, 11.2,27.5, 9.3,26.7, 12.6,27, 13.3,26.2, 14.6,25.7, 10,25.9, 11.4,25.4, 12.9,25.1, 12,24.5, 8.1,25.1, 7.1,24.3, 8.8,24.1, 13.6,24, 9,23, 10.3,23.6, 10.8,22.9, 5.2,23.6, 5.7,22.5, 7.4,22.4, 8.9,22, 3.9,21.7, 2.4,21.2, 5.4,21.4, 7.2,21.9, 7.9,21, 9.5,20.9, 4.2,20.5, 6.1,20.4, 4.5,19.8, 6.4,19.2, 0.8,19.2, 2.9,18.6, 4.5,18.5, 0.7,18, 3,17.9, 5.1,17.3, 0.5,17.3, 0.8,16.7, 1.5,16.7, 4.2,16.6, 4.4,16.1, 1.9,15.4, 0.2,14.5, 2.3,14.5, 5.7,14.5, 0.3,13.7, 5.9,13.7, 3.7,12.5, 5.7,12.5, 6.1,12.4, 7.9,12.5, 9.6,13.7, 7.9,11.7, 20.5,21.7, 22.6,20.3, 18.2,20.4, 19.5,20, 16.3,19.6, 17.2,18.6, 15.3,18.9, 20.4,18.9, 18.5,18.1, 19.9,17.8, 15.2,17.7, 14.1,17, 19,17.1, 15.8,16.7, 17.2,16.3, 14.1,16.2, 12.5,16.2, 10.9,15.7, 16.5,15.5, 17.7,15.2, 12.8,14.9, 14.7,14.8, 16,14.5, 11.3,14.3, 13.1,14, 16.3,13.1, 15,13.5, 11.6,13, 12.6,13, 13.9,12.6, 23.1,12.5, 24.1,12.7, 24.9,12.9, 27.8,14, 29,13.4, 24.7,14, 25.7,13, 26.8,11.4, 27.8,11.5, 25.9,11.2, 24.7,10.9, 23.7,10.9, 22.6,10.7, 21.5,10.4, 20.5,10.4, 26.8,9.5, 25.7,9.4, 24.7,9.1, 23.7,9, 22.6,8.9, 21.4,8.7, 20,8.4, 19.2,8.2, 18.2,8, 24.4,7.3, 23.6,7.2, 22.4,6.8, 21,6.8, 19.9,6.3, 14.5,8.7, 12.6,9.1, 13.6,9.4, 16,10.5, 14.6,11.4, 13.6,11.7, 12.5,10.4, 10.9,10.1, 10.6,10.9, 10.3,11.4, 8.9,9.5, 6.9,10.4, 6.6,9.6, 5.1,10.9, 9.6,8.6, 10.6,7.7, 11.6,7.3, 14,7.1, 15.7,6.5, 5.9,7.8, 5.2,7.5, 7.6,9.4, 3,8.9, 0.8,8.1, 3.2,8.1, 1.5,6.8, 3,6.8, 0.7,6, 1.5,5.8, 4.5,5.8, 8.1,6.5, 10.1,5.3, 6.7,4.5, 4,5.3, 2.5,4.5, 0.8,4.7, 1.7,4.5, 3.7,4, 2.4,3.2, 3.2,3.2, 4.2,3.3, 0.2,3.7, 0.3,2.4, 1.5,1.6, 2.2,1, 3.7,1.5, 5.2,1.9, 5.4,1.3, 7.4,0.8, 1.7,0.1, 13.3,3.3, 14.1,3.4, 15,3.6, 16,3.4, 17.2,3.6, 18.2,2.9, 19,4.5, 19.5,4.7, 20.9,4.7, 21.9,3.4, 22.7,2.7, 23.1,5, 22.2,5.2, 20.4,6.5, 18.2,5, 17,5.8, 15.7,5, 14.6,5, 13.6,5.2, 17,4.5, 12.3,2.9, 11.6,2, 11.8,0.8, 10.8,0.6, 13.5,1.6, 14.5,1.6, 15.3,1.4, 16.3,1.6, 17.5,2.4, 18.5,2.2, 19.5,2.2, 20.4,2.9, 19.7,1.1, 20.4,1.1, 21.4,0.9, 23,0.1, 23,-0.9, 21,-1.3, 19.5,-0.9, 18.2,-0.7, 16.5,0.4, 14.6,0.1, 13,-0.4, 13.6,-0.7, 15.3,-1.7, 19.2,-2.7, 21.7,-2.9, 20,-3.8, 19,-5.2, 18.5,-6, 17.7,-7.3, 17,-8.1, 15.5,-7.9, 15.5,-9.4, 15.5,-10.7, 16.8,-11.5, 14,-10.2, 13.3,-10.7, 12.5,-11.2, 12,-12.2, 15.5,-12.1, 14.1,-12.5, 14.8,-12.9, 13.3,-13.5, 12.8,-14.6, 11.3,-12.8, 10.3,-13.3, 11.2,-16.8, 13.8,-4.1, 13.5,-4.8, 11.8,-5.3, 10.8,-4.8, 13.3,-6.1, 11.6,-2.7, 12.6,-3, 10.3,-1.4, 8.6,-0.7, 7.6,-1.7, 6.7,-2.7, 4.9,-2.5, 3.2,-2, 0.3,-1.2, 1.9,-2.6, 4.9,-3.8, 6.1,-4.5, 7.9,-3.2, 8.9,-3.8, 9.9,-2.7, 7.2,-4.8, 8.2,-5.8, 10.3,-5, 9.6,-6.6, 8.6,-6.8, 3.5,-5.3, 3.7,-6.6, 4.9,-6.9, 5.9,-6.1, 6.9,-5.6, 7.2,-8.6, 5.9,-8.1, 2,-6.6, 2.2,-8.6, 0.3,-8.6, 1.5,-9.7, 4.2,-7.9, 7.6,-9.2, 8.6,-7.9, 10.9,-8.6, 12.1,-8.6, 10.1,-10.2, 4.4,-10.2, 5.6,-10.7, 3.4,-9.2, 0.2,-10.2, 0.5,-10.7, 1.2,-11, 2.2,-11, 0.7,-11.7, 1.5,-12.2, 2.9,-12.2, 0.3,-13.5, 1.2,-12.8, 1.3,-14.2, 2.9,-14.1, 3.5,-14.6, 4.5,-13.5, 5.2,-12.6, 6.1,-13.5, 0.5,-15.3, 2.4,-15.1, 3.5,-16.1, 5.1,-15.1, 6.1,-15.5, 6.6,-14.7, 9.1,-14.3, 8.8,-15.3, 0.8,-16.1, 2.9,-16.5, 3.9,-16.9, 5.1,-16.5, 7.6,-16.4, 8.2,-17.4, 6.6,-16.4, 6.9,-17.8, 6.4,-18.4, 5.2,-18.7, 2.7,-17.9, 2.4,-18.2, 4.2,-19.8, 2.2,-20, 3.7,-20.6, 2.4,-22.6, 0.4,-23.9]
const p6Points = [13.9,28.4, 11.2,27.5, 16,27.2, 14.7,25.6, 9.4,26.5, 9.9,25.7, 11.6,25.3, 13.3,24.7, 12,24.4, 13.5,23.9, 8.1,24.8, 7,24.3, 8.6,23.9, 5.2,23.4, 10.3,23.4, 9.1,22.9, 5.6,22.4, 7.3,22.1, 10.8,22.5, 3.7,21.6, 2.4,21.1, 8.8,21.7, 7.7,21.1, 9.4,20.7, 4.3,20.4, 5.9,20.2, 4.5,19.8, 0.7,19.7, 0.9,19.1, 6.4,19.1, 2.9,18.5, 2.7,17.9, 3.1,17.9, 4.6,18.2, 0.7,17.9, 5,17.1, 0.6,17.1, 4.2,16.5, 1.4,16.5, 0.3,16.4, 1.6,15.8, 4,15.7, 1.9,14.5, 0.1,14.5, 5.5,13.7, 0.1,13.7, 3.5,13.1, 3.4,12.3, 7.4,13.6, 9.5,13.6, 9.1,12.9, 11,15.6, 11,13.9, 5.3,12.2, 6.1,12.2, 6.9,11.5, 7.9,12.3, 8.1,11.5, 8.8,11.5, 11.5,12.7, 10.9,11.5, 4.9,10.9, 4.8,10.1, 6.6,10.1, 8.2,10, 10.2,10.8, 11.7,10.9, 6.6,9.1, 6.9,8.3, 9.7,9.5, 10.4,9.6, 10.2,8.9, 3.2,8.7, 3.6,8.1, 1.3,8, 11.8,8.9, 8.6,9.6, 8.6,8.1, 10.1,7.5, 11.7,8, 12.2,7.4, 5.2,7.3, 5,6.3, 5.6,5.8, 7.2,6.5, 8.8,6.5, 10.1,5.9, 11.1,5.2, 1.6,6.6, 3.9,5.1, 1.9,5, 2.3,4.7, 7.2,4.6, 7.6,4.2, 0.3,5.8, 4,4.2, 1.7,3.7, 3.5,3.2, 4.5,3.2, 2.3,2.9, 0.3,3.4, 0.3,2.3, 5.9,2.2, 1.3,1.4, 3,1.4, 20.7,21.5, 22.7,20.1, 18.2,20.2, 19.7,19.8, 16.5,19.3, 20.2,18.7, 21.6,18.3, 18.4,18, 15.4,18.9, 15.2,17.5, 17,18.4, 19,16.9, 20.1,17.3, 14.1,16.8, 15.8,16.4, 17.4,16.2, 12.4,16.1, 12.8,14.9, 14.6,14.5, 16.1,15.4, 17.9,14.9, 15.9,14.1, 15,13.3, 16.9,13.2, 12.8,13.1, 13.4,12.7, 14.4,12.1, 15.1,11.6, 16.4,10.7, 13,10.1, 13.5,9.5, 14,9.4, 15.1,8.6, 13.4,7.1, 26.1,14.7, 27.1,14.7, 28,13.2, 29,13.3, 23.1,12.4, 24.1,12.5, 25,12.7, 26.1,12.8, 21.6,10.4, 20.6,10.3, 22.9,10.7, 23.8,10.8, 24.9,10.9, 25.9,11, 26.9,11.3, 27.9,11.3, 26.8,9.5, 25.7,9.3, 24.8,9, 23.8,8.9, 22.9,8.7, 21.6,8.6, 20.3,8.2, 19.5,8.2, 18.4,7.9, 21,7.1, 20.5,6.3, 22.3,6.5, 23.6,7.1, 24.6,7.4, 19,6.1, 17,5.8, 15.3,6.3, 15,5, 16.6,4.5, 17.6,4, 19,4.2, 20,5, 21,4.5, 21.6,3.7, 22.3,5, 23.3,5.2, 24.2,4.7, 23.1,2.7, 12.8,3.4, 13.5,2.8, 14.3,3.2, 15,2.8, 15.9,3.4, 16.9,3.2, 18,2.7, 19.9,2.4, 16.1,1.6, 15.4,1.6, 11.8,1.8, 14.3,1.4, 17.3,0.6, 19.3,0.4, 20.7,0.3, 22.6,-0.4, 23.1,-0.9, 12.1,0.8, 10.8,0.5, 14,0.1, 14.7,-0.7, 19.2,-0.9, 19,-2, 20.7,-1.8, 17.3,-2.1, 15.9,-1.4, 20,-4, 19,-5.3, 18.6,-6.2, 17.7,-7.4, 17.3,-8.4, 15.6,-8.1, 15,-9.7, 14.3,-10.2, 15.9,-10.4, 16.1,-11.6, 15.3,-12.1, 14.4,-12.8, 13.3,-13.5, 12.5,-14.2, 12.8,-14.7, 11.4,-16.8, 9.2,-14.6, 8.9,-15.5, 10.4,-13.4, 11.1,-12.1, 11.8,-11.1, 12.7,-11.1, 13.3,-10.6, 9.7,-9.9, 9.2,-10.4, 11.8,-8.6, 11.1,-8.9, 12.8,-5.6, 12.7,-7.4, 11.2,-5.3, 11.1,-4, 12.4,-2.2, 13,-3, 14.6,-3.8, 11,-1.7, 10.4,-0.4, 8.5,-1.4, 8.6,-2.7, 9.2,-3.5, 7.2,-4.8, 7.6,-5, 6.3,-5.3, 5.5,-6.1, 4.3,-6.3, 9.5,-6.3, 10.4,-7.1, 7.9,-7.6, 7.8,-8.4, 6.2,-8.1, 4.3,-8.4, 3,-8.5, 2.2,-6.9, 3.7,-5.6, 2.6,-4.7, 4.8,-3.2, 6.1,-2.7, 6.9,-2.2, 4.6,-0.7, 2.7,-0.9, 1.4,-1.2, 2.3,-2, 1,-2.5, 6.3,-0.9, 5.2,-9.9, 4.6,-10.7, 6.3,-9.7, 2,-9.2, 0.6,-9.7, 0.3,-12.5, 1.2,-12.2, 2.6,-11.2, 3.6,-12.1, 3,-13, 1.3,-14, 1.4,-14.8, 2.4,-14.3, 4.8,-12.8, 3.7,-13.3, 0.3,-15.9, 5.2,-15.6, 4.6,-16.4, 3,-16.9, 4,-16.9, 1.7,-18.3, 7.6,-17.5, 6.7,-16.6, 6.7,-17.9, 5.9,-18.5, 5.2,-18.8, 4.5,-19, 3.8,-20, 4.6,-20.3, 3.2,-22.4, 0.2,-24]
const p7Points = [14.6,26.4, 13.3,25.5, 13.4,24.7, 16.5,25.1, 14.6,24.3, 15.3,24.2, 11.1,24.4, 12.1,23.8, 15.4,23.4, 16.5,23.1, 4.8,25.6, 0.2,23.2, 1.3,22.6, 10,22.6, 10.3,21.9, 11,22, 13.4,22.5, 14.2,22.4, 14.4,21.7, 2.2,21.7, 1,21.4, 7.8,21.5, 12,21.5, 12.1,20.8, 13.1,20.7, 8.8,20.8, 9.8,20.2, 8.7,19.7, 3.6,19.9, 2.3,19.4, 11.1,19.6, 11,18.7, 6.5,19.6, 7.7,19, 5.9,18.6, 4.4,18.3, 5.2,17.6, 7.4,17.8, 8.7,17.9, 9.7,17.6, 11.7,17.6, 13,17.2, 8.4,17, 7.5,16.5, 6.1,17, 2.9,16.2, 5.2,16.2, 6.4,15.7, 9.5,16.5, 11.8,16.2, 10.4,15.4, 13,15.6, 11.1,15.2, 5.1,14.9, 6.2,14.4, 7,14.7, 8.2,14.4, 9.7,15, 11,14.3, 0.5,14.8, 1.5,14.2, 2.7,13.6, 3.8,14, 9,14, 9.3,13.4, 11.1,12.9, 12.4,13.1, 3.6,12.9, 1,12.6, 5.8,12.6, 6.9,12.1, 10.4,11.9, 12.3,12.4, 14.3,13.4, 19.9,13.9, 20.3,13, 21.4,14.9, 22.4,11.7, 15.7,12.4, 16,11.6, 16.7,11.2, 17.6,11.2, 18.8,11.8, 19,10.6, 20.8,10.6, 21.4,9.6, 19.8,9.8, 13.9,10.9, 14.8,10.3, 15.9,10.7, 16.7,9, 17.3,9.3, 18.2,9, 19.8,8.5, 20.3,8, 18.5,7.2, 17.6,7.7, 15.2,9, 15.6,6.9, 14.9,8.2, 13.6,7.7, 14.2,7.2, 12.4,8.6, 15.7,5.7, 16.7,6.3, 17.3,5.7, 19.9,5.2, 21.6,6.7, 21.5,5.9, 18,4.1, 15.7,4.9, 21,3.3, 16.2,3.6, 25.5,5.7, 26.9,5.7, 22.9,4.4, 25.4,4.5, 24.4,3.6, 25.7,3.6, 27.3,3.1, 27.7,2.3, 28.6,4.3, 26.3,2.3, 22.8,3, 23.2,1.5, 24.7,1.5, 26.1,1.1, 20.5,1.5, 22.1,1.5, 22.2,0.8, 20.6,-0.5, 23.7,-0.5, 25.1,0.3, 24,-1.8, 22.5,-2.7, 21.2,-2, 20.6,-2.7, 19.3,-1.3, 18.8,-1.5, 17.9,-0.9, 15.2,-0.8, 15.9,-1.3, 16.6,-2.8, 17.5,-3.3, 18.3,-3.6, 19.8,-4.4, 21.4,-4.1, 19.2,-4.6, 20.2,-5.9, 18.9,-5.9, 17.5,-5.7, 16,-5.1, 14.9,-4.5, 14.3,-5.1, 12.6,-5.9, 11.8,-5.9, 13.1,-2.1, 12.6,-2.8, 11.7,-4.6, 11,-4.1, 10.3,-4.4, 9.4,-5.1, 18.3,-6.9, 17.2,-7.2, 16,-6.7, 14.9,-6.2, 14,-7.2, 12.9,-8.2, 12,-7.5, 10.5,-7.5, 10.4,-8.1, 13.6,-8, 14.3,-8.5, 15.4,-8.2, 16.7,-8.7, 24.4,-8, 25.5,-7.7, 25.8,-8.5, 26.2,-9.3, 23.1,-9.5, 24.5,-10.7, 26.1,-11.1, 25,-11.3, 20.9,-9.7, 19.3,-10, 20.8,-11, 21.5,-11.6, 21.9,-12.1, 23.2,-12.9, 23.7,-13.4, 17.3,-11.3, 18,-10.8, 15.3,-10.2, 14.6,-10.6, 13.3,-12.6, 12,-11.6, 11.1,-11.6, 16,-12.1, 19.2,-12.9, 18.3,-13.6, 20.1,-13.1, 17.2,-14.3, 17.9,-15.2, 16.7,-15.2, 20.5,-14.2, 21.2,-14.2, 22.1,-14.9, 19.9,-16.4, 18.6,-18.3, 17.5,-18.4, 16.7,-17.2, 15.3,-17.2, 14,-17.1, 12.3,-17.4, 12.7,-18.5, 14,-19, 15.2,-19, 13.4,-18.3, 11.7,-18.5, 10.3,-18.9, 11.1,-20.6, 12.6,-21.1, 15.7,-20.3, 16,-20.8, 14.3,-21.1, 13.3,-21.9, 14.1,-22.1, 15.7,-22.6, 17.2,-22.6, 12.6,-23.3, 11.1,-23.2, 9.8,-22.7, 9.1,-22, 8,-20.1, 8.8,-19.6, 0.6,11.1, 1.3,10, 2.3,10.6, 3.5,11.3, 4.6,10.6, 5.5,10, 6.1,8.5, 3.5,8.5, 2.6,7.7, 0.5,8.7, 0.6,7.5, 1.9,6.7, 3.9,5.4, 3.6,4.4, 1.3,2.6, 3.1,3.3, 3.1,1.3, 4.9,1.5, 5.4,5.7, 5.6,4.6, 7.5,6.9, 7.7,6.2, 9.1,4.9, 10,4.4, 10.8,3.9, 11.8,5.9, 13,5.1, 13.7,5, 14.3,4.4, 12,2.8, 12.7,2.8, 10.3,2.1, 9.3,2.6, 8.7,1.3, 7.5,2.1, 6.8,3.1, 6.4,-0.5, 7.1,1.5, 8,-0.3, 9.1,0, 11.1,0, 11.7,-0.8, 13.4,1, 10.4,-1, 4.4,-1, 5.2,-1.5, 1.9,-2.3, 3.5,-2.6, 3.8,-3.3, 5.9,-4.1, 6.2,-5.1, 7.7,-3.1, 9.4,-2.8, 4.1,-5.7, 4.6,-7.5, 2,-4.4, 2.3,-5.9, 1,-6.9, 0.3,-6.9, 2.8,-8, 0.9,-8.2, 1.5,-9, 0.5,-9.5, 0.3,-10.6, 1.6,-11.8, 2.3,-10.3, 3.9,-11.3, 4.8,-10.6, 5.6,-12.1, 7.5,-12.1, 8.5,-10, 9.4,-12.1, 4.4,-13.9, 5.3,-13.4, 6.5,-13.6, 2.2,-15.2, 2.9,-16, 4.2,-14.9, 5.2,-14.7, 6.2,-15.4, 7.5,-15.2, 8.5,-14.7, 9.7,-15.4, 11.1,-15.2, 12.7,-15.2, 4.2,-17.8, 5.2,-16.7, 6.1,-16.2, 7.5,-17.8, 9.5,-16.7, 1.5,-18.5, 2.9,-18.5, 5.6,-19.6, 1.3,-19.6, 1.5,-20.6, 1,-21.6, 2.8,-21.4, 4.4,-22.6, 0.5,-22.9, 1.9,-23.4, 3.5,-24.2, 5.5,-22.9, 6.9,-24.4, 7.8,-23.9, 8.4,-24.7, 9.8,-25.2, 4.5,-25.7, 5.2,-25.5, 0.5,-25.7, 7.1,-26, 5.8,-27.8, 3.8,-27.3, 0.6,-28, 1.2,-28.8, 1.6,-29.3, 2.9,-27.5, 3.3,-30.1, 11.1,-28.7, 13.9,-29.1, 12,-30.3, 10.3,-29.9, 9.3,-29.6, 13,-31.8, 0.3,-30.6, 1.8,-31.4, 2.9,-31.5, 2.3,-31.9, 4.8,-32.1, 4.2,-33, 5.9,-33.6, 2,-34.1, 3.9,-34.6]
const p8Points = [14.3,26, 13,25.1, 16.2,24.7, 13.1,24.3, 14.1,23.9, 14.9,23.7, 10.8,23.7, 15.2,23.1, 16.1,22.7, 11.8,23.3, 0.1,22.7, 0.9,22.1, 2.3,21.5, 1.1,20.8, 9.7,21.9, 13,22.2, 14,22, 10.7,21.5, 14.1,21.3, 7.6,21, 8.5,20.3, 11.7,20.7, 12.8,20.2, 9.5,19.6, 8.8,19.7, 3.7,19.3, 2.4,18.9, 10.7,19, 7.2,18.8, 6.2,18, 5,17.4, 3.9,17.8, 7.2,17.5, 8.4,17.8, 9.4,17.1, 12,17.2, 8.4,16.8, 6,16.5, 7.3,16, 5,16.4, 2.7,15.8, 10.7,15.7, 11.7,15.8, 6.1,15.4, 6.9,15.4, 9.8,14.7, 8.2,14.3, 8.9,14.2, 9.4,13.6, 4.9,14.5, 3.9,14.2, 0.4,14.4, 4.3,13.5, 1.3,13.7, 5.8,13, 6.2,12.9, 2.6,13.1, 1,12.6, 12.1,13.1, 11,12.6, 10.1,11.9, 6.8,12.2, 0.3,11.6, 1,11.1, 3.3,11.3, 4.6,10.8, 5.5,10, 1.2,10, 2.2,10.3, 12.4,10.4, 14.3,11.6, 15.6,12.1, 17.6,10.8, 18.4,11.5, 19.6,13.5, 20.2,12.8, 21.6,12.1, 22.2,11.3, 19.2,10.8, 20.5,10.1, 19.5,9.6, 21,9.4, 14.7,10.1, 15.9,9.9, 16.6,8.9, 17,8.7, 17.6,9.8, 17.9,8.5, 18.9,8.5, 20,8.5, 19.9,7.5, 12.5,8.9, 13.4,8.5, 14.4,7.7, 14.7,8.7, 13.7,7.2, 18.2,7.3, 21.3,6.9, 21.3,6.3, 15.4,6.7, 16.6,6.7, 17.6,6.7, 18.2,5.9, 15.9,5.7, 19.5,5.7, 19.5,5.1, 18.3,5, 17.5,4.5, 15.4,4.5, 14.4,3.6, 11.1,6.7, 11.8,6.2, 12.4,5.1, 13.3,5.2, 14,4.6, 9.8,5.6, 8.6,5, 10.1,4.4, 10.8,3.9, 7.3,4.4, 5.2,4.4, 6.6,3.6, 9.9,3.1, 12.2,3.1, 8.4,3.1, 4.9,3.2, 11.8,1.5, 13.3,1.3, 11,2.3, 9.4,1.5, 7.3,1.8, 8.2,1.3, 6.2,0.8, 4.5,1, 2.7,1.8, 0.9,3.1, 1.3,4.1, 2.9,3.3, 3.3,5.2, 5.2,5.9, 6.1,6.4, 7.3,7.2, 3.6,7.2, 2.2,7.5, 1.4,7.7, 0.4,6.7, 1.2,5.7, 26.2,6.2, 25.2,5.6, 22.5,4.9, 22.5,4.1, 24.3,3.5, 25.2,4.1, 26.1,2.3, 26.9,2.8, 27.5,2, 20.6,3.3, 20.7,2.6, 22.6,2.6, 21.9,1.5, 21,1.1, 23.1,1.4, 24.5,1.3, 25.8,0.8, 24.9,0, 21.3,0.8, 21.9,0.6, 14.7,-0.5, 18.3,-0.4, 19.6,-0.4, 20.5,-1, 21.5,-0.4, 22.5,-0.6, 23.5,-0.9, 23.8,-2.1, 21.9,-2.1, 22.2,-3, 21,-2.1, 19.9,-1.5, 18.9,-1.5, 18,-2.3, 16.9,-2.1, 15.9,-2.6, 16.6,-4.4, 17.6,-3.6, 18.7,-4.6, 20.2,-3.9, 21.3,-4.1, 17.3,-5.1, 18.9,-5.9, 19.9,-5.7, 15.6,-4.4, 14.1,-3.9, 13.1,-4.4, 14.7,-5.7, 15.6,-5.9, 14.4,-6.7, 16.1,-7.2, 16.9,-7.1, 18,-7.2, 19.2,-9, 18.3,-9.8, 16.7,-10.3, 16.4,-11.1, 15.4,-8.7, 14.4,-8.7, 15,-10, 13.5,-9, 12.2,-7.7, 12.1,-5.7, 10.7,-5.7, 10.2,-6.8, 11.1,-7.5, 12.8,-1.8, 12.8,-2.8, 11.5,-2.1, 11.7,-0.8, 14.7,-1, 9.2,-1.8, 10.4,-3.1, 9.2,-4.6, 7.9,-4.9, 6.5,-4.7, 5.9,-3.6, 7.3,-2.8, 5.9,-1, 4.2,-1, 3.6,-2.1, 2.2,-2.1, 2.4,-4.6, 4.5,-4.6, 4.3,-5.9, 0.6,-4.4, 1.7,-5.1, 0.9,-6.2, 1,-7.7, 2.9,-7.5, 4.3,-6.9, 4.9,-6.9, 2,-8.7, 0.4,-9.8, 4.5,-10, 5.3,-10.8, 1.2,-11.1, 2.2,-11.1, 0.4,-13.1, 1.3,-12.6, 3.6,-11.6, 5.8,-11.8, 7.2,-10.3, 7.5,-11.6, 9.2,-11.8, 10.7,-9.8, 11.5,-10.8, 13.3,-10.8, 13.8,-11.8, 3.6,-14.2, 2.9,-14.7, 4.6,-13.6, 6.1,-13.1, 7.2,-13.9, 8.6,-13.1, 9.9,-12.9, 11.5,-13.1, 11,-14.2, 12.1,-14.2, 5,-15.4, 6.3,-14.9, 7.8,-14.9, 10.1,-15.2, 1.6,-16.5, 2.6,-17.5, 4.3,-17, 3.7,-18.5, 7.5,-17, 9.7,-16.2, 8.4,-17.2, 11.8,-16.7, 14.4,-17.2, 16,-16.4, 17.3,-16.5, 18.2,-17.5, 19.2,-17.5, 19.6,-15.7, 20.6,-15.4, 17.6,-14.4, 18.6,-14.4, 19.3,-14.2, 22.3,-14.4, 20.9,-13.6, 21.8,-13.4, 17.6,-12.9, 18.3,-12.4, 19.6,-11.8, 20.3,-11.1, 22.2,-11.6, 21.5,-10.3, 23.2,-9.3, 24.6,-7.5, 25.8,-7.5, 26.2,-8.5, 27.5,-8.6, 24.8,-10.3, 25.8,-10.6, 23.8,-12.6, 22.8,-12.4, 23.5,-9.5, 0.3,-18.8, 1,-20.6, 2.2,-19.8, 3.3,-20.6, 0.4,-22.1, 1.2,-21.9, 1.9,-23.2, 3,-22.9, 4.5,-21.9, 5.3,-21.6, 5.8,-19.8, 8.9,-20.1, 9.9,-21.4, 9,-21.6, 10.8,-19.8, 12,-19.8, 12.7,-19.3, 12.1,-21.6, 12.5,-22.9, 13.3,-22.4, 13.4,-20.3, 14.4,-20.3, 14,-21.1, 15.3,-21.6, 14.7,-22.9, 15.9,-18.8, 16.6,-19.6, 17.9,-19.8, 17.3,-20.8, 16.6,-20.8, 6.6,-23.3, 7.6,-23.7, 8.5,-23.2, 9.7,-24.7, 10.7,-24.2, 11.2,-24.8, 5.9,-24.4, 4.5,-24.4, 5.3,-25.3, 3.7,-25.5, 7.8,-25.5, 9.1,-26, 5.8,-26.5, 4.3,-26.8, 6.8,-26.8, 8.2,-27.8, 9.8,-27.5, 12.1,-27.5, 13.1,-27.9, 3.7,-27.1, 6.5,-27.3, 1.7,-27.9, 2.4,-28.8, 3.7,-28.9, 0.7,-28.7, 4.5,-29.9, 5.2,-29.2, 9.8,-29.1, 11,-29.1, 8.9,-30.3, 11.1,-30.4, 13.1,-29.2, 12.1,-31.9, 0.4,-29.6, 1,-30.5, 2.4,-30.9, 3,-31.7, 3.9,-32.2, 3.3,-32.7, 1.7,-31.9, 5.1,-33.7, 2.9,-34.6]

const U = 558 / 35 // pixels per degree
const X_MIN = -2.8
const X_MAX = 43
const Y_MAX = 43
const PLOT_W = (X_MAX - X_MIN) * U
const PLOT_H = 2 * Y_MAX * U
const AXIS_W = 170
const SANS = '"Liberation Sans", Arial, sans-serif'
const SERIF = '"Liberation Serif", "Times New Roman", serif'
const TOP_FILL = '#fbfbfb'

const polar = (az: number, r: number) => ({ x: r * Math.sin((az * Math.PI) / 180), y: r * Math.cos((az * Math.PI) / 180) })
const azOf = (p: { x: number; y: number }) => (Math.atan2(p.x, p.y) * 180) / Math.PI
const arc = (a0: number, a1: number, r = 35) => {
  const n = Math.max(2, Math.ceil(Math.abs(a1 - a0) / 3))
  return Array.from({ length: n + 1 }, (_, i) => polar(a0 + ((a1 - a0) * i) / n, r))
}
const toXY = (line: Pt[]) => line.filter(Boolean).map((p) => ({ x: (p as number[])[0], y: (p as number[])[1] }))
const segments = (line: Pt[]) => {
  const out: { x: number; y: number }[][] = [[]]
  line.forEach((p) => {
    if (p) out[out.length - 1].push({ x: p[0], y: p[1] })
    else out.push([])
  })
  return out
}
const regionBelow = (line: Pt[]) => {
  const pts = toXY(line)
  const first = pts[0]
  const a = azOf(pts[pts.length - 1])
  const tail = first.x > 0 ? arc(0, azOf(first)) : []
  return [...pts, ...arc(a, 180), ...tail]
}
const regionAbove = (line: Pt[]) => {
  const pts = toXY(line)
  return [...pts, ...arc(azOf(pts[pts.length - 1]), 0)]
}

const NoDot = () => <g />
const Dot = (p: any) => <circle cx={p.cx} cy={p.cy} r={5.3} fill="#0d0d0d" />
const ContourText = (p: any) => (
  <text x={p.cx} y={p.cy} textAnchor="middle" dominantBaseline="central" fontFamily={SANS} fontSize={36} fill="#262626">{p.payload.t}</text>
)
const AngleText = (p: any) => (
  <text x={p.cx} y={p.cy} textAnchor="middle" dominantBaseline="central" fontFamily={SANS} fontSize={44} fill="#1c1c1c">{p.payload.t}</text>
)
const Star = (p: any) => {
  const pts = Array.from({ length: 10 }, (_, i) => {
    const r = i % 2 ? 16 : 38
    const a = ((180 + 36 * i) * Math.PI) / 180
    return `${p.cx + r * Math.sin(a)},${p.cy - r * Math.cos(a)}`
  })
  return <polygon points={pts.join(' ')} fill="#fff" stroke="#222" strokeWidth={3} />
}
const ZenithTick = ({ x, y, payload }: any) => {
  const major = payload.value % 5 === 0
  return (
    <g>
      <line x1={x} x2={x - (major ? 22 : 10)} y1={y} y2={y} stroke="#8a8a8a" strokeWidth={2.5} />
      {major && <text x={x - 36} y={y} textAnchor="end" dominantBaseline="central" fontFamily={SANS} fontSize={44} fill="#262626">{Math.abs(payload.value)}</text>}
    </g>
  )
}

// one filled or stroked run through the chart scales
const path = (key: string, data: { x: number; y: number }[], style: any) => (
  <Scatter key={key} data={data} shape={NoDot} isAnimationActive={false} legendType="none" line={style} />
)

function gridLines() {
  const out: any[] = []
  const solidTop = { fill: 'none', stroke: 'rgba(255,255,255,0.13)', strokeWidth: 2 }
  const solidBottom = { fill: 'none', stroke: 'rgba(60,60,60,0.32)', strokeWidth: 2.5 }
  const faintBottom = { fill: 'none', stroke: 'rgba(60,60,60,0.12)', strokeWidth: 2 }
  const dottedTop = { fill: 'none', stroke: 'rgba(255,255,255,0.42)', strokeWidth: 2, strokeDasharray: '3 6' }
  const dottedBottom = { fill: 'none', stroke: 'rgba(255,255,255,0.22)', strokeWidth: 2, strokeDasharray: '3 6' }
  for (let r = 5; r <= 30; r += 5) {
    out.push(path(`ct${r}`, arc(0, 90, r), solidTop), path(`cb${r}`, arc(90, 180, r), r < 15 ? faintBottom : solidBottom))
    out.push(path(`dt${r}`, arc(0, 90, r + 2.5), dottedTop), path(`db${r}`, arc(90, 180, r + 2.5), dottedBottom))
  }
  for (let a = 15; a <= 90; a += 15) {
    out.push(path(`r${a}`, [{ x: 0, y: 0 }, polar(a, 35)], solidTop))
  }
  for (let a = 105; a < 180; a += 15) {
    out.push(path(`rf${a}`, [{ x: 0, y: 0 }, polar(a, 15)], faintBottom))
    out.push(path(`rs${a}`, [polar(a, 15), polar(a, 35)], solidBottom))
  }
  for (let a = 7.5; a < 180; a += 15) {
    const line = [polar(a, 5), polar(a, 35)]
    out.push(path(`m${a}`, line, a <= 90 ? dottedTop : dottedBottom))
  }
  return out
}

const contourStyle = { fill: 'none', stroke: '#333', strokeWidth: 2.6 }

type PanelProps = {
  cx: number
  cy: number
  base: number
  contours: Contour[]
  labels: [string, number, number][]
  points: number[]
  starY: number
  withAxis?: boolean
  corner?: Pt[]
  cornerLevel?: number
  island?: Pt[]
  islandLevel?: number
}

function Panel({ cx, cy, base, contours, labels, points, starY, withAxis, corner, cornerLevel, island, islandLevel }: PanelProps) {
  const fillOf = (lv: number) => (lv === 1.6 ? TOP_FILL : bandFills[levels.indexOf(lv)])
  const dots: { x: number; y: number }[] = []
  for (let i = 0; i < points.length; i += 2) dots.push({ x: points[i], y: points[i + 1] })
  const w = PLOT_W + (withAxis ? AXIS_W : 0)
  return (
    <div style={{ position: 'absolute', left: cx + X_MIN * U - (withAxis ? AXIS_W : 0), top: cy - Y_MAX * U }}>
      <ScatterChart width={w} height={PLOT_H} margin={{ top: 0, right: 0, bottom: 0, left: 0 }}>
        <XAxis type="number" dataKey="x" domain={[X_MIN, X_MAX]} hide />
        {withAxis ? (
          <YAxis type="number" dataKey="y" domain={[-Y_MAX, Y_MAX]} width={AXIS_W} ticks={zenithTicks} interval={0} tickSize={0} tickMargin={0} axisLine={false} tickLine={false} tick={ZenithTick} />
        ) : (
          <YAxis type="number" dataKey="y" domain={[-Y_MAX, Y_MAX]} hide />
        )}
        {path('disk', arc(0, 180), { fill: fillOf(base), stroke: 'none' })}
        {contours.map(([lv, line]) => path(`f${lv}`, regionBelow(line), { fill: fillOf(lv), stroke: 'none' }))}
        {corner && path('cornerFill', regionAbove(corner), { fill: fillOf(cornerLevel as number), stroke: 'none' })}
        {island && path('islandFill', toXY(island), { fill: fillOf(islandLevel as number), stroke: 'none' })}
        {gridLines()}
        {contours.flatMap(([lv, line]) => segments(line).map((s, i) => path(`l${lv}-${i}`, s, contourStyle)))}
        {corner && segments(corner).map((s, i) => path(`cl${i}`, s, contourStyle))}
        {island && path('islandLine', toXY(island), contourStyle)}
        {path('rim', arc(0, 180), { fill: 'none', stroke: '#333', strokeWidth: 3 })}
        {path('spine', [{ x: 0, y: 35 }, { x: 0, y: -35 }], { fill: 'none', stroke: '#a5a5a5', strokeWidth: 2.5 })}
        {withAxis && path('axis', [{ x: X_MIN, y: -35 }, { x: X_MIN, y: 35 }], { fill: 'none', stroke: '#8a8a8a', strokeWidth: 3.5 })}
        <Scatter data={dots} shape={Dot} isAnimationActive={false} legendType="none" />
        <Scatter data={labels.map(([t, x, y]) => ({ t, x, y }))} shape={ContourText} isAnimationActive={false} legendType="none" />
        <Scatter data={[{ x: 0, y: starY }]} shape={Star} isAnimationActive={false} legendType="none" />
        <Scatter data={azimuthLabels.map((a, i) => ({ t: a, ...polar(a, azimuthRadii[i]) }))} shape={AngleText} isAnimationActive={false} legendType="none" />
      </ScatterChart>
    </div>
  )
}

const heading = (text: string, x: number, y: number, size: number, bold = false) => (
  <div style={{ position: 'absolute', left: x - 600, top: y - size, width: 1200, height: size * 2, lineHeight: `${size * 2}px`, textAlign: 'center', fontFamily: SERIF, fontSize: size, fontWeight: bold ? 700 : 400, color: '#111' }}>{text}</div>
)
const rotated = (text: string, x: number, y: number, size: number, font: string, color: string) => (
  <div style={{ position: 'absolute', left: x - 400, top: y - 60, width: 800, height: 120, lineHeight: '120px', textAlign: 'center', fontFamily: font, fontSize: size, color, transform: 'rotate(-90deg)' }}>{text}</div>
)

const scaleRow = Object.fromEntries([['name', 'ANIF'], ...levels.map((lv, i) => [`b${i}`, bandHeights[i]])])

function ColorScale() {
  return (
    <div style={{ position: 'absolute', left: 3521, top: 1008 }}>
      <BarChart width={276} height={1115} data={[scaleRow]} barCategoryGap={0} margin={{ top: 0, right: 0, bottom: 0, left: 0 }}>
        <XAxis dataKey="name" hide />
        <YAxis orientation="right" type="number" domain={[0.5, 1.7]} allowDataOverflow width={150} ticks={scaleTicks} interval={0} axisLine={false} tickLine={false} tickSize={0} tickMargin={10} tickFormatter={(v: number) => v.toFixed(2)} tick={{ fontFamily: SERIF, fontSize: 58, fill: '#111' }} />
        {levels.map((lv, i) => (
          <Bar key={lv} dataKey={`b${i}`} stackId="a" fill={bandFills[i]} isAnimationActive={false} />
        ))}
      </BarChart>
    </div>
  )
}

export default function App() {
  return (
    <div style={{ position: 'absolute', left: 0, top: 0, width: 3792, height: 2894, background: '#fff', overflow: 'hidden' }}>
      <Panel cx={341.6} cy={882} base={0.5} contours={p1Contours} labels={p1Labels} points={p1Points} starY={-32.2} withAxis />
      <Panel cx={1116.7} cy={882} base={0.8} contours={p2Contours} labels={p2Labels} points={p2Points} starY={-32.2} />
      <Panel cx={2066.7} cy={857.5} base={0.8} contours={p3Contours} labels={p3Labels} points={p3Points} starY={-34} corner={p3Corner} cornerLevel={0.9} island={p3Island} islandLevel={0.7} />
      <Panel cx={2841.3} cy={857.5} base={0.6} contours={p4Contours} labels={p4Labels} points={p4Points} starY={-34} />
      <Panel cx={341.6} cy={2239} base={0.5} contours={p5Contours} labels={p5Labels} points={p5Points} starY={-32.2} withAxis />
      <Panel cx={1116.7} cy={2239} base={0.8} contours={p6Contours} labels={p6Labels} points={p6Points} starY={-32.2} />
      <Panel cx={2068.6} cy={2233} base={0.8} contours={p7Contours} labels={p7Labels} points={p7Points} starY={-34} />
      <Panel cx={2841.3} cy={2233} base={0.6} contours={p8Contours} labels={p8Labels} points={p8Points} starY={-34} island={p8Island} islandLevel={0.9} />
      <ColorScale />
      {heading('9 June 2016', 989, 73, 128, true)}
      {heading('19 July 2016', 2700, 80, 128, true)}
      {heading('658 nm', 607, 222, 102)}
      {heading('848 nm', 1371, 222, 102)}
      {heading('658 nm', 2331, 198, 102)}
      {heading('848 nm', 3093, 198, 102)}
      {rotated('Plot C', 77, 885, 108, SERIF, '#111')}
      {rotated('Plot E', 77, 2237, 108, SERIF, '#111')}
      {rotated('View zenith angle [°]', 181, 882, 53, SANS, '#262626')}
      {rotated('View zenith angle [°]', 181, 2239, 53, SANS, '#262626')}
      <div style={{ position: 'absolute', left: 3523, top: 930, width: 260, height: 74, lineHeight: '74px', fontFamily: SERIF, fontWeight: 700, fontSize: 62, color: '#111', whiteSpace: 'nowrap' }}>ANIF [-]</div>
    </div>
  )
}
